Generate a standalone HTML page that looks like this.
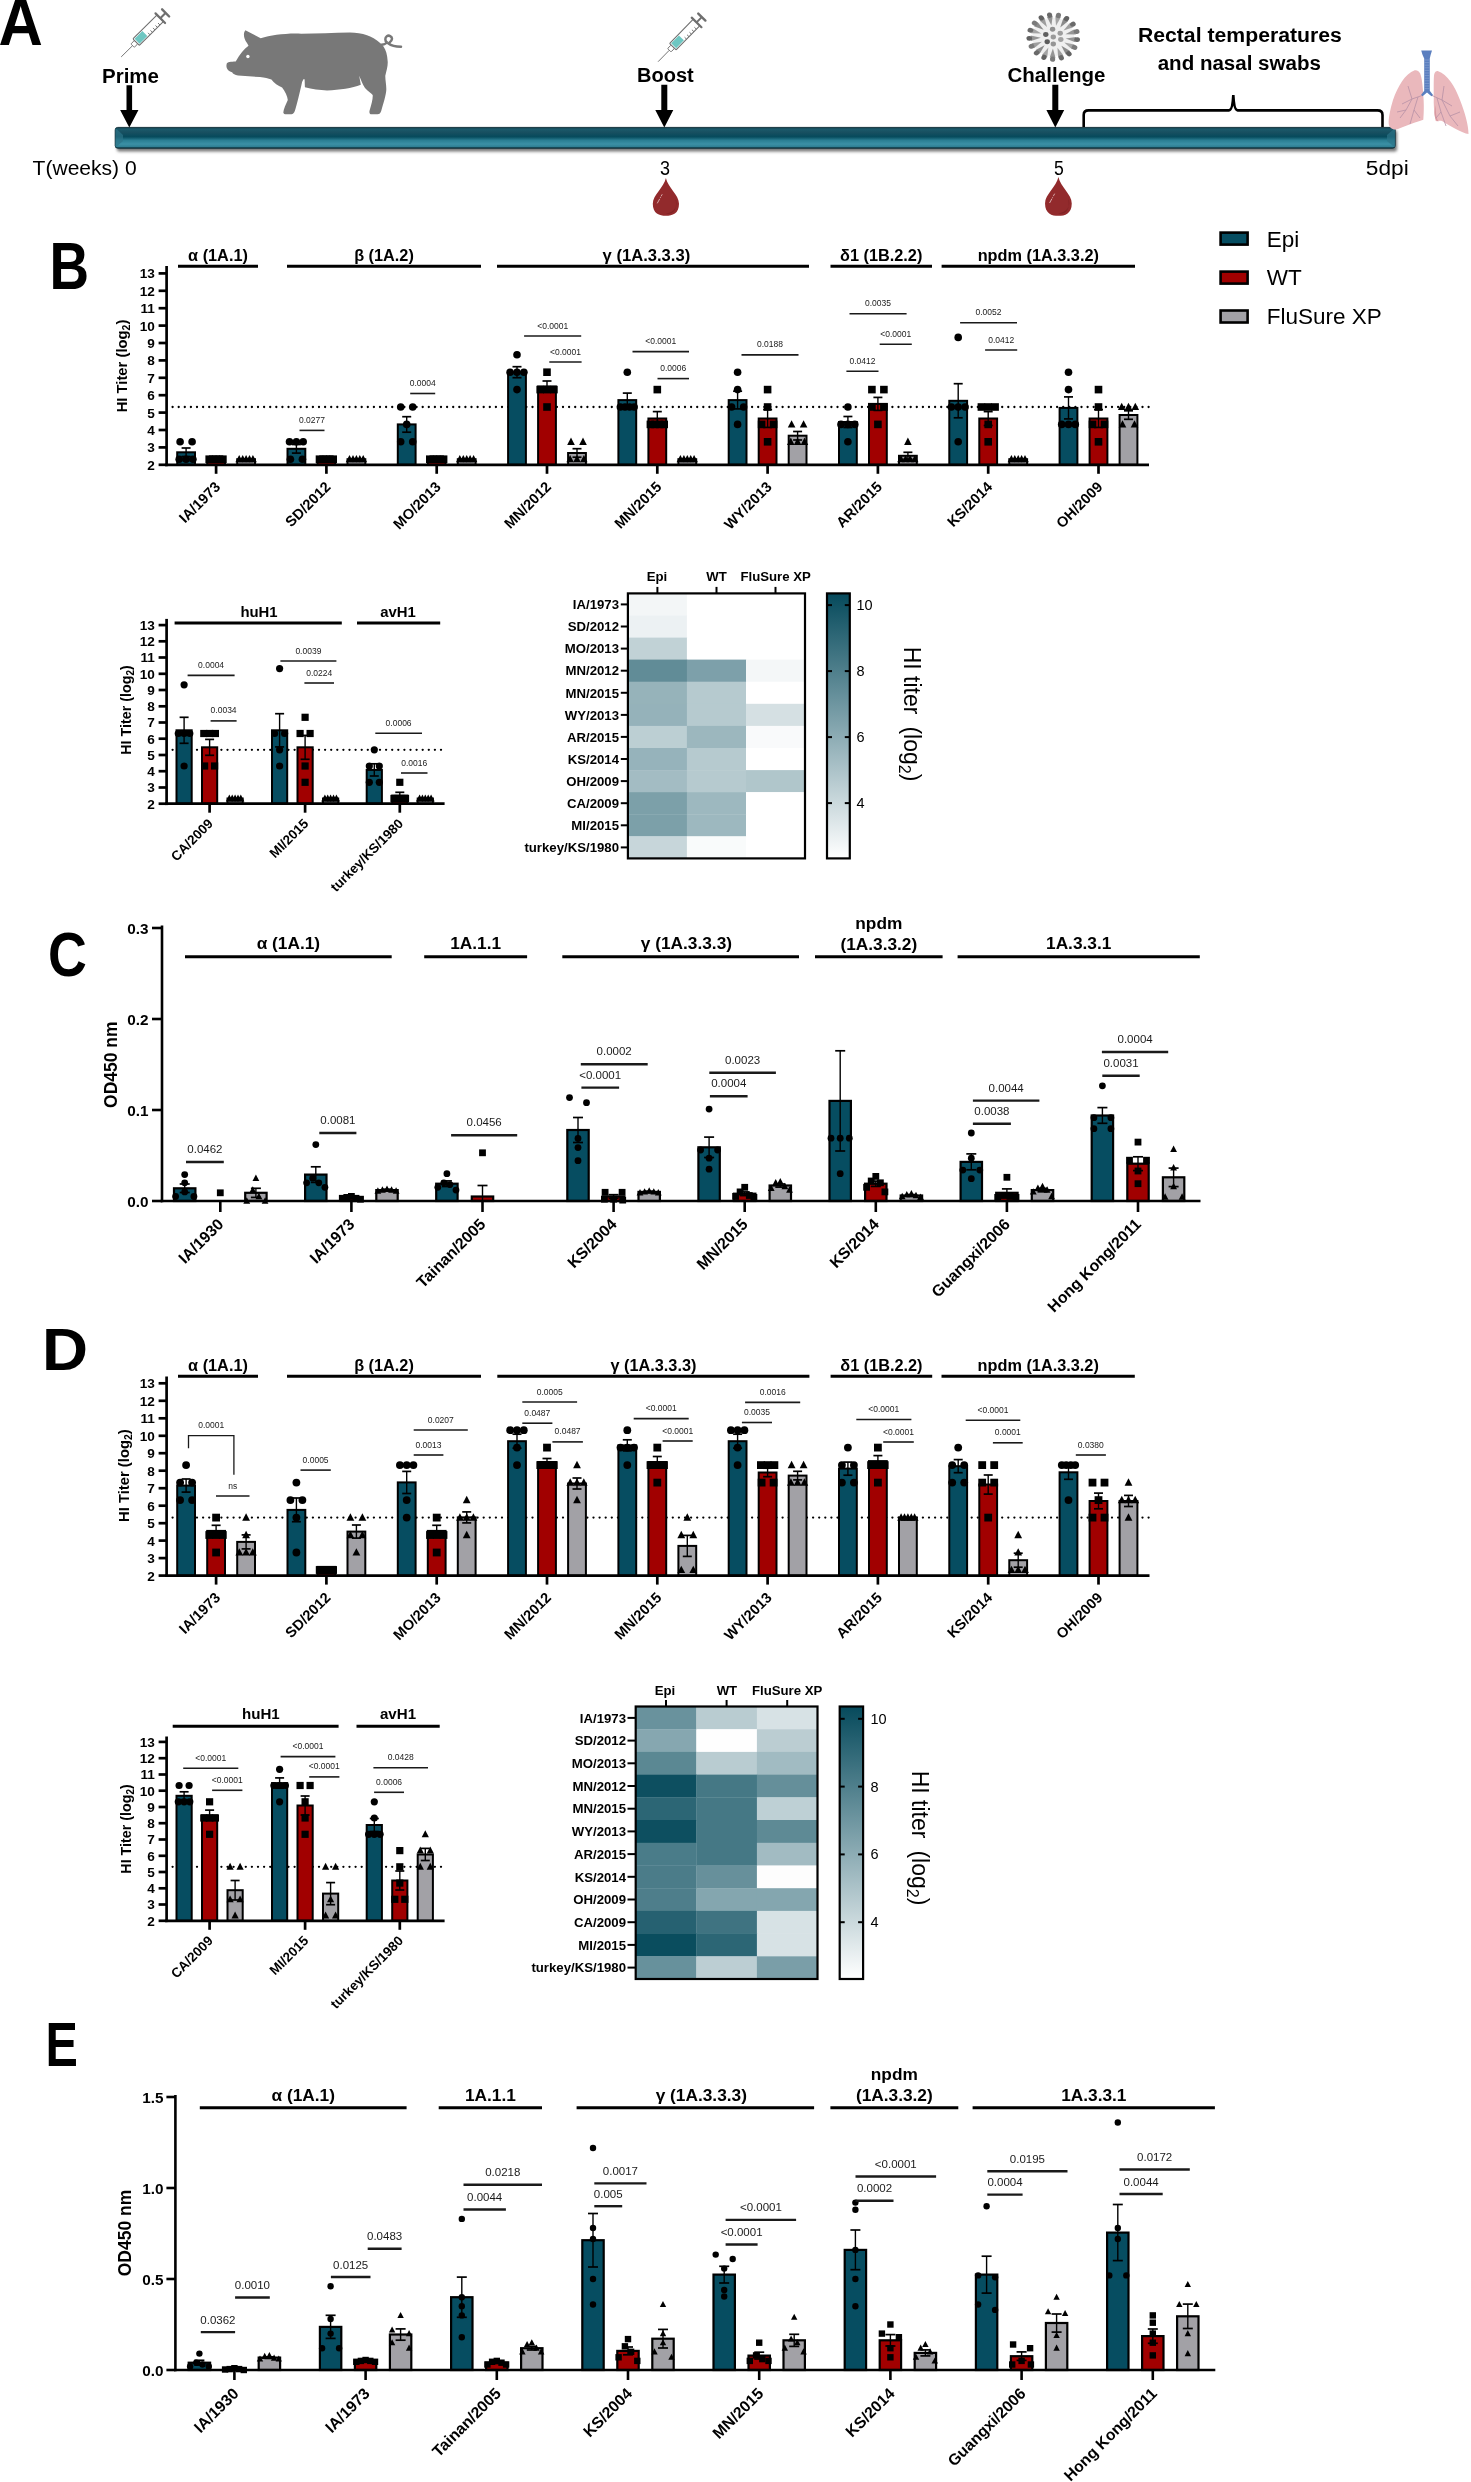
<!DOCTYPE html>
<html><head><meta charset="utf-8"><title>Figure</title>
<style>html,body{margin:0;padding:0;background:#fff;} svg{display:block;will-change:transform;} text{font-family:"Liberation Sans", sans-serif;}</style>
</head><body>
<svg width="1471" height="2482" viewBox="0 0 1471 2482" font-family="Liberation Sans, sans-serif">
<rect width="1471" height="2482" fill="#fff"/>
<text x="-1.5" y="45" font-size="66" font-weight="bold" transform="translate(-1.5 0) scale(0.93 1) translate(1.5 0)">A</text>
<g transform="translate(121.2 56.9) rotate(-44.7)" stroke="#6f6f6f" fill="none"><line x1="0" y1="0" x2="16" y2="0" stroke-width="0.9"/><rect x="16" y="-2.4" width="5" height="4.8" rx="0.8" fill="#fff" stroke-width="0.9"/><rect x="21" y="-4.6" width="34" height="9.2" rx="1" fill="#fff" stroke-width="1.1"/><rect x="22.3" y="-3.5" width="11" height="7" fill="#6ec7c2" stroke="none"/><line x1="36" y1="4.6" x2="36" y2="1.8" stroke-width="0.9"/><line x1="39.5" y1="4.6" x2="39.5" y2="1.8" stroke-width="0.9"/><line x1="43" y1="4.6" x2="43" y2="1.8" stroke-width="0.9"/><line x1="46.5" y1="4.6" x2="46.5" y2="1.8" stroke-width="0.9"/><line x1="50" y1="4.6" x2="50" y2="1.8" stroke-width="0.9"/><line x1="55" y1="-6.8" x2="55" y2="6.8" stroke-width="2.2" stroke-linecap="round"/><line x1="55" y1="0" x2="62" y2="0" stroke-width="2"/><line x1="62.5" y1="-5" x2="62.5" y2="5" stroke-width="2.4" stroke-linecap="round"/></g>
<g transform="translate(658.1 61.7) rotate(-45.6)" stroke="#6f6f6f" fill="none"><line x1="0" y1="0" x2="16" y2="0" stroke-width="0.9"/><rect x="16" y="-2.4" width="5" height="4.8" rx="0.8" fill="#fff" stroke-width="0.9"/><rect x="21" y="-4.6" width="34" height="9.2" rx="1" fill="#fff" stroke-width="1.1"/><rect x="22.3" y="-3.5" width="11" height="7" fill="#6ec7c2" stroke="none"/><line x1="36" y1="4.6" x2="36" y2="1.8" stroke-width="0.9"/><line x1="39.5" y1="4.6" x2="39.5" y2="1.8" stroke-width="0.9"/><line x1="43" y1="4.6" x2="43" y2="1.8" stroke-width="0.9"/><line x1="46.5" y1="4.6" x2="46.5" y2="1.8" stroke-width="0.9"/><line x1="50" y1="4.6" x2="50" y2="1.8" stroke-width="0.9"/><line x1="55" y1="-6.8" x2="55" y2="6.8" stroke-width="2.2" stroke-linecap="round"/><line x1="55" y1="0" x2="62" y2="0" stroke-width="2"/><line x1="62.5" y1="-5" x2="62.5" y2="5" stroke-width="2.4" stroke-linecap="round"/></g>
<path fill="#787878" d="M245.4 30.3 C243 33 243.5 38 247 43 L248.5 45.7 C244 49 240 54 235.7 61.4 C231 61.5 227 62 226.8 63.5 C226 66 226.5 68.5 228 70 C229.5 71.5 231 72 232.1 72.3 C233 74 235 75 238 75.4 L260 77.1 C265 77.8 268 78.5 271.4 79.5 C274 83 278 86 282.1 87.4 C285 91 287.5 96 287.8 100 C286 104 283.5 109 283.3 112.5 C283.5 114 285 114.4 287 114.3 L291.5 114.3 C293 114.3 294 113 295 110.5 C297 104 299.5 94 302.1 82 L303.4 79.3 L304.6 79.3 L304.9 87.3 C312 89 320 90.4 327 90.4 C340 90.2 352 88 360.8 84.8 L359.2 75.7 C361 80 363 85 365 88 C368 91.5 371 93 372.7 95 C373 99 371.5 104 369.6 110.5 C369 113 369.8 114.3 371.5 114.3 L377.5 114.3 C379.5 114.3 380.6 113 381.2 111 C383.5 103 386 95 386.3 90 C386.5 85 385.2 80 385.3 75.7 C386.5 71 388 66 387.7 61.4 C387.3 55 386 50 383.5 46.5 L381.3 44 C376 39.5 371 36.5 367 35.3 C362 33.6 356 32.6 349.9 32.6 C332 33 312 33.8 295.7 33.6 C282 33.7 270 35.5 260.7 38.3 Z"/>
<circle cx="247.9" cy="56.5" r="1.7" fill="#fff"/>
<path d="M381.5 44.8 C384 44.5 386.5 43.5 386.6 42 C385 41 384.8 37.5 386.8 36.2 C389 34.8 392 36.3 392 38.8 C392 41.3 389.8 42.5 388.5 43.5 C391 45.5 395 46.6 401 46.8" fill="none" stroke="#787878" stroke-width="2.5" stroke-linecap="round"/>
<g transform="translate(1053.3 37.0) scale(1 0.92)"><circle r="21" fill="#efefef"/><path d="M12.4 1.5 L22.0 5.6 L22.7 -0.1Z" fill="#959595"/><path d="M11.0 5.9 L18.5 13.2 L21.2 8.1Z" fill="#a4a4a4"/><path d="M8.1 9.5 L12.5 19.0 L16.9 15.2Z" fill="#8a8a8a"/><path d="M4.2 11.8 L4.8 22.2 L10.2 20.2Z" fill="#9e9e9e"/><path d="M-0.4 12.5 L-3.6 22.4 L2.2 22.6Z" fill="#959595"/><path d="M-4.9 11.5 L-11.4 19.6 L-6.1 21.9Z" fill="#a4a4a4"/><path d="M-8.7 9.0 L-17.7 14.2 L-13.6 18.2Z" fill="#8a8a8a"/><path d="M-11.4 5.2 L-21.6 6.8 L-19.2 12.1Z" fill="#9e9e9e"/><path d="M-12.5 0.8 L-22.6 -1.5 L-22.3 4.3Z" fill="#959595"/><path d="M-11.9 -3.8 L-20.6 -9.6 L-22.3 -4.0Z" fill="#a4a4a4"/><path d="M-9.7 -7.8 L-15.7 -16.3 L-19.4 -11.8Z" fill="#8a8a8a"/><path d="M-6.3 -10.8 L-8.8 -20.9 L-13.8 -18.0Z" fill="#9e9e9e"/><path d="M-1.9 -12.4 L-0.6 -22.7 L-6.3 -21.8Z" fill="#959595"/><path d="M2.7 -12.2 L7.6 -21.4 L2.0 -22.6Z" fill="#a4a4a4"/><path d="M6.9 -10.4 L14.8 -17.2 L10.0 -20.4Z" fill="#8a8a8a"/><path d="M10.2 -7.2 L20.0 -10.7 L16.7 -15.4Z" fill="#9e9e9e"/><path d="M12.1 -3.1 L22.5 -2.7 L21.1 -8.3Z" fill="#959595"/><ellipse cx="23.8" cy="2.9" rx="2.9" ry="2.6" fill="#6a6a6a" transform="rotate(7 23.8 2.9)"/><ellipse cx="21.2" cy="11.3" rx="2.9" ry="2.6" fill="#7a7a7a" transform="rotate(28 21.2 11.3)"/><ellipse cx="15.6" cy="18.2" rx="2.9" ry="2.6" fill="#626262" transform="rotate(49 15.6 18.2)"/><ellipse cx="8.0" cy="22.6" rx="2.9" ry="2.6" fill="#6a6a6a" transform="rotate(71 8.0 22.6)"/><ellipse cx="-0.7" cy="24.0" rx="2.9" ry="2.6" fill="#7a7a7a" transform="rotate(92 -0.7 24.0)"/><ellipse cx="-9.3" cy="22.1" rx="2.9" ry="2.6" fill="#626262" transform="rotate(113 -9.3 22.1)"/><ellipse cx="-16.7" cy="17.2" rx="2.9" ry="2.6" fill="#6a6a6a" transform="rotate(134 -16.7 17.2)"/><ellipse cx="-21.8" cy="10.1" rx="2.9" ry="2.6" fill="#7a7a7a" transform="rotate(155 -21.8 10.1)"/><ellipse cx="-24.0" cy="1.5" rx="2.9" ry="2.6" fill="#626262" transform="rotate(176 -24.0 1.5)"/><ellipse cx="-22.9" cy="-7.3" rx="2.9" ry="2.6" fill="#6a6a6a" transform="rotate(198 -22.9 -7.3)"/><ellipse cx="-18.7" cy="-15.0" rx="2.9" ry="2.6" fill="#7a7a7a" transform="rotate(219 -18.7 -15.0)"/><ellipse cx="-12.0" cy="-20.8" rx="2.9" ry="2.6" fill="#626262" transform="rotate(240 -12.0 -20.8)"/><ellipse cx="-3.7" cy="-23.7" rx="2.9" ry="2.6" fill="#6a6a6a" transform="rotate(261 -3.7 -23.7)"/><ellipse cx="5.1" cy="-23.4" rx="2.9" ry="2.6" fill="#7a7a7a" transform="rotate(282 5.1 -23.4)"/><ellipse cx="13.2" cy="-20.0" rx="2.9" ry="2.6" fill="#626262" transform="rotate(303 13.2 -20.0)"/><ellipse cx="19.6" cy="-13.9" rx="2.9" ry="2.6" fill="#6a6a6a" transform="rotate(325 19.6 -13.9)"/><ellipse cx="23.3" cy="-5.9" rx="2.9" ry="2.6" fill="#7a7a7a" transform="rotate(346 23.3 -5.9)"/><circle cx="0.0" cy="7.5" r="2.7" fill="#959595"/><circle cx="-7.5" cy="-2.7" r="2.7" fill="#5f5f5f"/><circle cx="6.9" cy="-4.0" r="2.7" fill="#9c9c9c"/><circle cx="7.5" cy="2.7" r="2.7" fill="#a0a0a0"/><circle cx="-6.1" cy="5.1" r="2.7" fill="#5c5c5c"/><circle cx="-0.7" cy="-8.5" r="2.7" fill="#8f8f8f"/><circle cx="0.0" cy="0.0" r="2.7" fill="#999999"/></g>
<defs><linearGradient id="tl" x1="0" y1="0" x2="0" y2="1"><stop offset="0" stop-color="#0b2f3a"/><stop offset="0.07" stop-color="#1c5a6b"/><stop offset="0.25" stop-color="#174f60"/><stop offset="0.45" stop-color="#064a5c"/><stop offset="0.62" stop-color="#2a7e92"/><stop offset="0.8" stop-color="#3b90a5"/><stop offset="0.93" stop-color="#2f7f93"/><stop offset="1" stop-color="#0b2f3a"/></linearGradient>
<filter id="sh" x="-5%" y="-50%" width="110%" height="200%"><feGaussianBlur stdDeviation="1.6"/></filter></defs>
<rect x="117" y="130.5" width="1280" height="21" rx="2" fill="#777" filter="url(#sh)"/>
<rect x="115.2" y="127.4" width="1280" height="20.8" rx="2.5" fill="url(#tl)" stroke="#0b2b35" stroke-width="0.9"/>
<path d="M115.5 128 L123 135 L123 141 L115.5 147.5 Z" fill="#2c7487" opacity="0.7"/>
<path d="M1395 128 L1387 135 L1387 141 L1395 147.5 Z" fill="#2c7487" opacity="0.7"/>
<path d="M126.50000000000001 85.3 L132.10000000000002 85.3 L132.10000000000002 110 L138.45000000000002 110 L129.3 127.5 L120.15 110 L126.50000000000001 110 Z"/>
<path d="M661.3 84.7 L667.3 84.7 L667.3 110 L673.3 110 L664.3 127.5 L655.3 110 L661.3 110 Z"/>
<path d="M1052.3 84.7 L1058.3 84.7 L1058.3 110 L1064.2 110 L1055.3 127.5 L1046.3999999999999 110 L1052.3 110 Z"/>
<path d="M1083.7 127 L1083.7 115 Q1083.7 110.4 1088.5 110.4 L1229 110.4 Q1232.5 110.4 1233.3 95 Q1234.1 110.4 1237.6 110.4 L1377.5 110.4 Q1382.5 110.4 1382.5 115 L1382.5 127" fill="none" stroke="#000" stroke-width="2.6"/>
<text x="102" y="82.6" font-size="20" font-weight="bold" textLength="57" lengthAdjust="spacingAndGlyphs">Prime</text>
<text x="637.1" y="81.8" font-size="20" font-weight="bold" textLength="56.7" lengthAdjust="spacingAndGlyphs">Boost</text>
<text x="1007.6" y="81.7" font-size="20" font-weight="bold" textLength="97.8" lengthAdjust="spacingAndGlyphs">Challenge</text>
<text x="1137.9" y="42.2" font-size="20" font-weight="bold" textLength="204" lengthAdjust="spacingAndGlyphs">Rectal temperatures</text>
<text x="1157.7" y="70.1" font-size="20" font-weight="bold" textLength="163.2" lengthAdjust="spacingAndGlyphs">and nasal swabs</text>
<text x="32.6" y="175.4" font-size="20" textLength="104" lengthAdjust="spacingAndGlyphs">T(weeks) 0</text>
<text x="660" y="175.1" font-size="20" textLength="10" lengthAdjust="spacingAndGlyphs">3</text>
<text x="1054" y="175.1" font-size="20" textLength="9.8" lengthAdjust="spacingAndGlyphs">5</text>
<text x="1365.8" y="174.6" font-size="20" textLength="42.9" lengthAdjust="spacingAndGlyphs">5dpi</text>
<path d="M665.9 178 C667.9 187.45 679.0 195.01 679.0 203.704 C679.0 213.532 672.4499999999999 215.8 665.9 215.8 C659.35 215.8 652.8 213.532 652.8 203.704 C652.8 195.01 663.9 187.45 665.9 178 Z" fill="#922a2c"/>
<path d="M675.332 198.79000000000002 C679.0 206.35000000000002 673.76 212.776 665.9 213.532 C672.4499999999999 215.044 678.2139999999999 210.13 675.332 198.79000000000002Z" fill="#7e2224"/>
<line x1="657.254" y1="203.32600000000002" x2="662.232" y2="194.25400000000002" stroke="#e6c9c9" stroke-width="0.8" stroke-dasharray="5 1 1 1"/>
<path d="M1058.4 177 C1060.4 186.7 1071.75 194.46 1071.75 203.38400000000001 C1071.75 213.472 1065.075 215.8 1058.4 215.8 C1051.7250000000001 215.8 1045.0500000000002 213.472 1045.0500000000002 203.38400000000001 C1045.0500000000002 194.46 1056.4 186.7 1058.4 177 Z" fill="#922a2c"/>
<path d="M1068.0120000000002 198.34 C1071.75 206.10000000000002 1066.41 212.696 1058.4 213.472 C1065.075 215.024 1070.949 209.98000000000002 1068.0120000000002 198.34Z" fill="#7e2224"/>
<line x1="1049.5890000000002" y1="202.996" x2="1054.662" y2="193.684" stroke="#e6c9c9" stroke-width="0.8" stroke-dasharray="5 1 1 1"/>
<g><path d="M1414.7 70.3 C1405 74 1398 86 1393 100 C1390 110 1388.5 118 1388.7 123.5 C1389 128 1393 130.5 1398 129.1 C1406 126 1416 122 1423.3 119.8 C1424 112 1424 102 1423.3 95.7 C1422.8 86 1422 78 1420.2 73.4 C1418.5 70.5 1416.5 69.8 1414.7 70.3 Z" fill="#eab8bc"/><path d="M1438.2 71.2 C1447 74 1455 86 1460 100 C1465 113 1468.5 125 1468.5 134.1 C1462 133 1450 126 1442 121 C1439 120.5 1436.5 121.5 1435.7 121 C1434 113 1433.5 104 1433.8 96.9 C1433.8 88 1433.5 80 1434.1 74.7 C1434.8 71.8 1436.5 70.8 1438.2 71.2 Z" fill="#eab8bc"/><path d="M1435.5 105 C1436 112 1436 118 1438.5 121.5 C1436 121.5 1434.5 118 1434.5 112Z" fill="#d99aa2"/><path d="M1421.2 50.5 L1432 50.5 L1430.6 55 L1429.8 58.6 L1429.8 90.7 L1433.2 95.2 L1431.5 96.2 L1427 92.5 L1422.5 96.2 L1421 95 L1424.2 90.7 L1424.2 58.6 L1422.6 55 Z" fill="#5b7fbf"/><line x1="1424.2" y1="60.0" x2="1429.8" y2="60.0" stroke="#86a2d2" stroke-width="0.7"/><line x1="1424.2" y1="62.6" x2="1429.8" y2="62.6" stroke="#86a2d2" stroke-width="0.7"/><line x1="1424.2" y1="65.2" x2="1429.8" y2="65.2" stroke="#86a2d2" stroke-width="0.7"/><line x1="1424.2" y1="67.8" x2="1429.8" y2="67.8" stroke="#86a2d2" stroke-width="0.7"/><line x1="1424.2" y1="70.4" x2="1429.8" y2="70.4" stroke="#86a2d2" stroke-width="0.7"/><line x1="1424.2" y1="73.0" x2="1429.8" y2="73.0" stroke="#86a2d2" stroke-width="0.7"/><line x1="1424.2" y1="75.6" x2="1429.8" y2="75.6" stroke="#86a2d2" stroke-width="0.7"/><line x1="1424.2" y1="78.2" x2="1429.8" y2="78.2" stroke="#86a2d2" stroke-width="0.7"/><line x1="1424.2" y1="80.8" x2="1429.8" y2="80.8" stroke="#86a2d2" stroke-width="0.7"/><line x1="1424.2" y1="83.4" x2="1429.8" y2="83.4" stroke="#86a2d2" stroke-width="0.7"/><line x1="1424.2" y1="86.0" x2="1429.8" y2="86.0" stroke="#86a2d2" stroke-width="0.7"/><line x1="1424.2" y1="88.6" x2="1429.8" y2="88.6" stroke="#86a2d2" stroke-width="0.7"/><path d="M1422 95.5 L1412 99 L1402 104" stroke="#b690a6" stroke-width="0.8" fill="none"/><path d="M1412 99 L1406 110 L1400 118" stroke="#b690a6" stroke-width="0.8" fill="none"/><path d="M1418 97 L1414 110 L1410 124" stroke="#b690a6" stroke-width="0.8" fill="none"/><path d="M1406 110 L1397 112" stroke="#b690a6" stroke-width="0.8" fill="none"/><path d="M1414 110 L1420 118" stroke="#b690a6" stroke-width="0.8" fill="none"/><path d="M1408 86 L1412 99" stroke="#b690a6" stroke-width="0.8" fill="none"/><path d="M1432 95.5 L1442 100 L1452 106" stroke="#b690a6" stroke-width="0.8" fill="none"/><path d="M1442 100 L1450 116 L1458 126" stroke="#b690a6" stroke-width="0.8" fill="none"/><path d="M1437 98 L1441 112 L1446 126" stroke="#b690a6" stroke-width="0.8" fill="none"/><path d="M1450 116 L1460 112" stroke="#b690a6" stroke-width="0.8" fill="none"/><path d="M1444 86 L1442 100" stroke="#b690a6" stroke-width="0.8" fill="none"/><path d="M1441 112 L1436 118" stroke="#b690a6" stroke-width="0.8" fill="none"/></g>
<text x="49.5" y="289" font-size="66" font-weight="bold" transform="translate(49.5 0) scale(0.83 1) translate(-49.5 0)">B</text>
<line x1="172.6" y1="407" x2="1149" y2="407" stroke="#000" stroke-width="2.3" stroke-linecap="round" stroke-dasharray="0 6.1"/>
<rect x="177.2" y="452.3" width="17.8" height="12.5" fill="#064d61" stroke="#000" stroke-width="2"/>
<circle cx="180.1" cy="441.8" r="3.8"/>
<circle cx="192.1" cy="441.8" r="3.8"/>
<circle cx="186.1" cy="459.2" r="3.8"/>
<circle cx="179.2" cy="459.2" r="3.8"/>
<circle cx="192.9" cy="459.2" r="3.8"/>
<line x1="186.1" y1="448" x2="186.1" y2="456.5" stroke="#000" stroke-width="1.4"/>
<line x1="181.6" y1="448" x2="190.6" y2="448" stroke="#000" stroke-width="1.7"/>
<line x1="181.6" y1="456.5" x2="190.6" y2="456.5" stroke="#000" stroke-width="1.7"/>
<rect x="207.2" y="459.2" width="17.8" height="5.6" fill="#a10000" stroke="#000" stroke-width="2"/>
<rect x="212.3" y="455.4" width="7.6" height="7.6"/>
<rect x="208.9" y="455.4" width="7.6" height="7.6"/>
<rect x="215.7" y="455.4" width="7.6" height="7.6"/>
<rect x="205.4" y="455.4" width="7.6" height="7.6"/>
<rect x="219.1" y="455.4" width="7.6" height="7.6"/>
<rect x="237.2" y="459.2" width="17.8" height="5.6" fill="#a2a1a6" stroke="#000" stroke-width="2"/>
<path d="M246.1 455L249.9 462.3L242.3 462.3Z"/>
<path d="M242.7 455L246.5 462.3L238.9 462.3Z"/>
<path d="M249.5 455L253.3 462.3L245.7 462.3Z"/>
<path d="M239.2 455L243.1 462.3L235.4 462.3Z"/>
<path d="M252.9 455L256.8 462.3L249.1 462.3Z"/>
<rect x="287.5" y="448.8" width="17.8" height="16" fill="#064d61" stroke="#000" stroke-width="2"/>
<circle cx="296.4" cy="441.8" r="3.8"/>
<circle cx="289.5" cy="441.8" r="3.8"/>
<circle cx="303.2" cy="441.8" r="3.8"/>
<circle cx="290.4" cy="459.2" r="3.8"/>
<circle cx="302.4" cy="459.2" r="3.8"/>
<line x1="296.4" y1="444.5" x2="296.4" y2="453.1" stroke="#000" stroke-width="1.4"/>
<line x1="291.9" y1="444.5" x2="300.9" y2="444.5" stroke="#000" stroke-width="1.7"/>
<line x1="291.9" y1="453.1" x2="300.9" y2="453.1" stroke="#000" stroke-width="1.7"/>
<rect x="317.5" y="459.2" width="17.8" height="5.6" fill="#a10000" stroke="#000" stroke-width="2"/>
<rect x="322.6" y="455.4" width="7.6" height="7.6"/>
<rect x="319.2" y="455.4" width="7.6" height="7.6"/>
<rect x="326" y="455.4" width="7.6" height="7.6"/>
<rect x="315.7" y="455.4" width="7.6" height="7.6"/>
<rect x="329.4" y="455.4" width="7.6" height="7.6"/>
<rect x="347.5" y="459.2" width="17.8" height="5.6" fill="#a2a1a6" stroke="#000" stroke-width="2"/>
<path d="M356.4 455L360.2 462.3L352.6 462.3Z"/>
<path d="M353 455L356.8 462.3L349.2 462.3Z"/>
<path d="M359.8 455L363.6 462.3L356 462.3Z"/>
<path d="M349.5 455L353.3 462.3L345.7 462.3Z"/>
<path d="M363.2 455L367.1 462.3L359.4 462.3Z"/>
<rect x="397.8" y="424.4" width="17.8" height="40.4" fill="#064d61" stroke="#000" stroke-width="2"/>
<circle cx="400.7" cy="407" r="3.8"/>
<circle cx="412.7" cy="407" r="3.8"/>
<circle cx="406.7" cy="424.4" r="3.8"/>
<circle cx="400.7" cy="441.8" r="3.8"/>
<circle cx="412.7" cy="441.8" r="3.8"/>
<line x1="406.7" y1="416.7" x2="406.7" y2="432.2" stroke="#000" stroke-width="1.4"/>
<line x1="402.2" y1="416.7" x2="411.2" y2="416.7" stroke="#000" stroke-width="1.7"/>
<line x1="402.2" y1="432.2" x2="411.2" y2="432.2" stroke="#000" stroke-width="1.7"/>
<rect x="427.8" y="459.2" width="17.8" height="5.6" fill="#a10000" stroke="#000" stroke-width="2"/>
<rect x="432.9" y="455.4" width="7.6" height="7.6"/>
<rect x="429.5" y="455.4" width="7.6" height="7.6"/>
<rect x="436.3" y="455.4" width="7.6" height="7.6"/>
<rect x="426" y="455.4" width="7.6" height="7.6"/>
<rect x="439.8" y="455.4" width="7.6" height="7.6"/>
<rect x="457.8" y="459.2" width="17.8" height="5.6" fill="#a2a1a6" stroke="#000" stroke-width="2"/>
<path d="M466.7 455L470.5 462.3L462.9 462.3Z"/>
<path d="M463.3 455L467.1 462.3L459.5 462.3Z"/>
<path d="M470.1 455L473.9 462.3L466.3 462.3Z"/>
<path d="M459.8 455L463.6 462.3L456 462.3Z"/>
<path d="M473.6 455L477.4 462.3L469.8 462.3Z"/>
<rect x="508.1" y="372.2" width="17.8" height="92.6" fill="#064d61" stroke="#000" stroke-width="2"/>
<circle cx="517" cy="354.8" r="3.8"/>
<circle cx="517" cy="372.2" r="3.8"/>
<circle cx="510.1" cy="372.2" r="3.8"/>
<circle cx="523.9" cy="372.2" r="3.8"/>
<circle cx="517" cy="389.6" r="3.8"/>
<line x1="517" y1="366.7" x2="517" y2="377.7" stroke="#000" stroke-width="1.4"/>
<line x1="512.5" y1="366.7" x2="521.5" y2="366.7" stroke="#000" stroke-width="1.7"/>
<line x1="512.5" y1="377.7" x2="521.5" y2="377.7" stroke="#000" stroke-width="1.7"/>
<rect x="538.1" y="386.5" width="17.8" height="78.3" fill="#a10000" stroke="#000" stroke-width="2"/>
<rect x="543.2" y="368.4" width="7.6" height="7.6"/>
<rect x="543.2" y="385.8" width="7.6" height="7.6"/>
<rect x="536.4" y="385.8" width="7.6" height="7.6"/>
<rect x="550.1" y="385.8" width="7.6" height="7.6"/>
<rect x="543.2" y="403.2" width="7.6" height="7.6"/>
<line x1="547" y1="381" x2="547" y2="392" stroke="#000" stroke-width="1.4"/>
<line x1="542.5" y1="381" x2="551.5" y2="381" stroke="#000" stroke-width="1.7"/>
<line x1="542.5" y1="392" x2="551.5" y2="392" stroke="#000" stroke-width="1.7"/>
<rect x="568.1" y="453" width="17.8" height="11.8" fill="#a2a1a6" stroke="#000" stroke-width="2"/>
<path d="M571 437.6L574.8 444.9L567.2 444.9Z"/>
<path d="M583 437.6L586.8 444.9L579.2 444.9Z"/>
<path d="M577 455L580.8 462.3L573.2 462.3Z"/>
<path d="M570.1 455L573.9 462.3L566.4 462.3Z"/>
<path d="M583.9 455L587.6 462.3L580.1 462.3Z"/>
<line x1="577" y1="448.7" x2="577" y2="457.2" stroke="#000" stroke-width="1.4"/>
<line x1="572.5" y1="448.7" x2="581.5" y2="448.7" stroke="#000" stroke-width="1.7"/>
<line x1="572.5" y1="457.2" x2="581.5" y2="457.2" stroke="#000" stroke-width="1.7"/>
<rect x="618.4" y="400.1" width="17.8" height="64.7" fill="#064d61" stroke="#000" stroke-width="2"/>
<circle cx="627.3" cy="372.2" r="3.8"/>
<circle cx="625" cy="407" r="3.8"/>
<circle cx="629.6" cy="407" r="3.8"/>
<circle cx="620.4" cy="407" r="3.8"/>
<circle cx="634.1" cy="407" r="3.8"/>
<line x1="627.3" y1="393.1" x2="627.3" y2="407" stroke="#000" stroke-width="1.4"/>
<line x1="622.8" y1="393.1" x2="631.8" y2="393.1" stroke="#000" stroke-width="1.7"/>
<line x1="622.8" y1="407" x2="631.8" y2="407" stroke="#000" stroke-width="1.7"/>
<rect x="648.4" y="418.5" width="17.8" height="46.3" fill="#a10000" stroke="#000" stroke-width="2"/>
<rect x="653.5" y="385.8" width="7.6" height="7.6"/>
<rect x="651.2" y="420.6" width="7.6" height="7.6"/>
<rect x="655.8" y="420.6" width="7.6" height="7.6"/>
<rect x="646.6" y="420.6" width="7.6" height="7.6"/>
<rect x="660.4" y="420.6" width="7.6" height="7.6"/>
<line x1="657.3" y1="411.6" x2="657.3" y2="425.5" stroke="#000" stroke-width="1.4"/>
<line x1="652.8" y1="411.6" x2="661.8" y2="411.6" stroke="#000" stroke-width="1.7"/>
<line x1="652.8" y1="425.5" x2="661.8" y2="425.5" stroke="#000" stroke-width="1.7"/>
<rect x="678.4" y="459.2" width="17.8" height="5.6" fill="#a2a1a6" stroke="#000" stroke-width="2"/>
<path d="M687.3 455L691.1 462.3L683.5 462.3Z"/>
<path d="M683.9 455L687.7 462.3L680.1 462.3Z"/>
<path d="M690.7 455L694.5 462.3L686.9 462.3Z"/>
<path d="M680.4 455L684.2 462.3L676.6 462.3Z"/>
<path d="M694.1 455L697.9 462.3L690.4 462.3Z"/>
<rect x="728.7" y="400.1" width="17.8" height="64.7" fill="#064d61" stroke="#000" stroke-width="2"/>
<circle cx="737.6" cy="372.2" r="3.8"/>
<circle cx="737.6" cy="389.6" r="3.8"/>
<circle cx="731.6" cy="407" r="3.8"/>
<circle cx="743.6" cy="407" r="3.8"/>
<circle cx="737.6" cy="424.4" r="3.8"/>
<line x1="737.6" y1="391.2" x2="737.6" y2="408.9" stroke="#000" stroke-width="1.4"/>
<line x1="733.1" y1="391.2" x2="742.1" y2="391.2" stroke="#000" stroke-width="1.7"/>
<line x1="733.1" y1="408.9" x2="742.1" y2="408.9" stroke="#000" stroke-width="1.7"/>
<rect x="758.7" y="418.5" width="17.8" height="46.3" fill="#a10000" stroke="#000" stroke-width="2"/>
<rect x="763.8" y="385.8" width="7.6" height="7.6"/>
<rect x="763.8" y="403.2" width="7.6" height="7.6"/>
<rect x="757.8" y="420.6" width="7.6" height="7.6"/>
<rect x="769.8" y="420.6" width="7.6" height="7.6"/>
<rect x="763.8" y="438" width="7.6" height="7.6"/>
<line x1="767.6" y1="409.6" x2="767.6" y2="427.4" stroke="#000" stroke-width="1.4"/>
<line x1="763.1" y1="409.6" x2="772.1" y2="409.6" stroke="#000" stroke-width="1.7"/>
<line x1="763.1" y1="427.4" x2="772.1" y2="427.4" stroke="#000" stroke-width="1.7"/>
<rect x="788.7" y="435.7" width="17.8" height="29.1" fill="#a2a1a6" stroke="#000" stroke-width="2"/>
<path d="M791.6 420.2L795.4 427.5L787.8 427.5Z"/>
<path d="M803.6 420.2L807.4 427.5L799.8 427.5Z"/>
<path d="M797.6 437.6L801.4 444.9L793.8 444.9Z"/>
<path d="M790.8 437.6L794.5 444.9L787 444.9Z"/>
<path d="M804.5 437.6L808.2 444.9L800.7 444.9Z"/>
<line x1="797.6" y1="431.5" x2="797.6" y2="440" stroke="#000" stroke-width="1.4"/>
<line x1="793.1" y1="431.5" x2="802.1" y2="431.5" stroke="#000" stroke-width="1.7"/>
<line x1="793.1" y1="440" x2="802.1" y2="440" stroke="#000" stroke-width="1.7"/>
<rect x="839" y="422" width="17.8" height="42.8" fill="#064d61" stroke="#000" stroke-width="2"/>
<circle cx="847.9" cy="407" r="3.8"/>
<circle cx="847.9" cy="424.4" r="3.8"/>
<circle cx="841" cy="424.4" r="3.8"/>
<circle cx="854.8" cy="424.4" r="3.8"/>
<circle cx="847.9" cy="441.8" r="3.8"/>
<line x1="847.9" y1="416.5" x2="847.9" y2="427.5" stroke="#000" stroke-width="1.4"/>
<line x1="843.4" y1="416.5" x2="852.4" y2="416.5" stroke="#000" stroke-width="1.7"/>
<line x1="843.4" y1="427.5" x2="852.4" y2="427.5" stroke="#000" stroke-width="1.7"/>
<rect x="869" y="403.9" width="17.8" height="60.9" fill="#a10000" stroke="#000" stroke-width="2"/>
<rect x="868.1" y="385.8" width="7.6" height="7.6"/>
<rect x="880.1" y="385.8" width="7.6" height="7.6"/>
<rect x="868.1" y="403.2" width="7.6" height="7.6"/>
<rect x="880.1" y="403.2" width="7.6" height="7.6"/>
<rect x="874.1" y="420.6" width="7.6" height="7.6"/>
<line x1="877.9" y1="397.4" x2="877.9" y2="410.4" stroke="#000" stroke-width="1.4"/>
<line x1="873.4" y1="397.4" x2="882.4" y2="397.4" stroke="#000" stroke-width="1.7"/>
<line x1="873.4" y1="410.4" x2="882.4" y2="410.4" stroke="#000" stroke-width="1.7"/>
<rect x="899" y="455.8" width="17.8" height="9" fill="#a2a1a6" stroke="#000" stroke-width="2"/>
<path d="M907.9 437.6L911.7 444.9L904.1 444.9Z"/>
<path d="M905.6 455L909.4 462.3L901.8 462.3Z"/>
<path d="M910.2 455L914 462.3L906.4 462.3Z"/>
<path d="M901 455L904.8 462.3L897.2 462.3Z"/>
<path d="M914.8 455L918.5 462.3L911 462.3Z"/>
<line x1="907.9" y1="452.3" x2="907.9" y2="459.2" stroke="#000" stroke-width="1.4"/>
<line x1="903.4" y1="452.3" x2="912.4" y2="452.3" stroke="#000" stroke-width="1.7"/>
<line x1="903.4" y1="459.2" x2="912.4" y2="459.2" stroke="#000" stroke-width="1.7"/>
<rect x="949.3" y="400.8" width="17.8" height="64" fill="#064d61" stroke="#000" stroke-width="2"/>
<circle cx="958.2" cy="337.4" r="3.8"/>
<circle cx="958.2" cy="407" r="3.8"/>
<circle cx="951.4" cy="407" r="3.8"/>
<circle cx="965.1" cy="407" r="3.8"/>
<circle cx="958.2" cy="441.8" r="3.8"/>
<line x1="958.2" y1="383.7" x2="958.2" y2="417.8" stroke="#000" stroke-width="1.4"/>
<line x1="953.7" y1="383.7" x2="962.7" y2="383.7" stroke="#000" stroke-width="1.7"/>
<line x1="953.7" y1="417.8" x2="962.7" y2="417.8" stroke="#000" stroke-width="1.7"/>
<rect x="979.3" y="418.5" width="17.8" height="46.3" fill="#a10000" stroke="#000" stroke-width="2"/>
<rect x="984.4" y="403.2" width="7.6" height="7.6"/>
<rect x="977.6" y="403.2" width="7.6" height="7.6"/>
<rect x="991.3" y="403.2" width="7.6" height="7.6"/>
<rect x="984.4" y="420.6" width="7.6" height="7.6"/>
<rect x="984.4" y="438" width="7.6" height="7.6"/>
<line x1="988.2" y1="411.6" x2="988.2" y2="425.5" stroke="#000" stroke-width="1.4"/>
<line x1="983.7" y1="411.6" x2="992.7" y2="411.6" stroke="#000" stroke-width="1.7"/>
<line x1="983.7" y1="425.5" x2="992.7" y2="425.5" stroke="#000" stroke-width="1.7"/>
<rect x="1009.3" y="459.2" width="17.8" height="5.6" fill="#a2a1a6" stroke="#000" stroke-width="2"/>
<path d="M1018.2 455L1022 462.3L1014.4 462.3Z"/>
<path d="M1014.8 455L1018.6 462.3L1011 462.3Z"/>
<path d="M1021.6 455L1025.4 462.3L1017.8 462.3Z"/>
<path d="M1011.4 455L1015.1 462.3L1007.6 462.3Z"/>
<path d="M1025 455L1028.8 462.3L1021.2 462.3Z"/>
<rect x="1059.6" y="407.9" width="17.8" height="56.9" fill="#064d61" stroke="#000" stroke-width="2"/>
<circle cx="1068.5" cy="372.2" r="3.8"/>
<circle cx="1068.5" cy="389.6" r="3.8"/>
<circle cx="1068.5" cy="424.4" r="3.8"/>
<circle cx="1061.7" cy="424.4" r="3.8"/>
<circle cx="1075.3" cy="424.4" r="3.8"/>
<line x1="1068.5" y1="396.9" x2="1068.5" y2="418.9" stroke="#000" stroke-width="1.4"/>
<line x1="1064" y1="396.9" x2="1073" y2="396.9" stroke="#000" stroke-width="1.7"/>
<line x1="1064" y1="418.9" x2="1073" y2="418.9" stroke="#000" stroke-width="1.7"/>
<rect x="1089.6" y="418.5" width="17.8" height="46.3" fill="#a10000" stroke="#000" stroke-width="2"/>
<rect x="1094.7" y="385.8" width="7.6" height="7.6"/>
<rect x="1094.7" y="403.2" width="7.6" height="7.6"/>
<rect x="1088.7" y="420.6" width="7.6" height="7.6"/>
<rect x="1100.7" y="420.6" width="7.6" height="7.6"/>
<rect x="1094.7" y="438" width="7.6" height="7.6"/>
<line x1="1098.5" y1="409.6" x2="1098.5" y2="427.4" stroke="#000" stroke-width="1.4"/>
<line x1="1094" y1="409.6" x2="1103" y2="409.6" stroke="#000" stroke-width="1.7"/>
<line x1="1094" y1="427.4" x2="1103" y2="427.4" stroke="#000" stroke-width="1.7"/>
<rect x="1119.6" y="415" width="17.8" height="49.8" fill="#a2a1a6" stroke="#000" stroke-width="2"/>
<path d="M1128.5 402.8L1132.3 410.1L1124.7 410.1Z"/>
<path d="M1121.7 402.8L1125.5 410.1L1117.9 410.1Z"/>
<path d="M1135.3 402.8L1139.1 410.1L1131.5 410.1Z"/>
<path d="M1122.5 420.2L1126.3 427.5L1118.7 427.5Z"/>
<path d="M1134.5 420.2L1138.3 427.5L1130.7 427.5Z"/>
<line x1="1128.5" y1="410.8" x2="1128.5" y2="419.3" stroke="#000" stroke-width="1.4"/>
<line x1="1124" y1="410.8" x2="1133" y2="410.8" stroke="#000" stroke-width="1.7"/>
<line x1="1124" y1="419.3" x2="1133" y2="419.3" stroke="#000" stroke-width="1.7"/>
<line x1="166.6" y1="266" x2="166.6" y2="466.2" stroke="#000" stroke-width="2.7"/>
<line x1="165.2" y1="464.8" x2="1149" y2="464.8" stroke="#000" stroke-width="2.7"/>
<line x1="158.6" y1="464.8" x2="166.6" y2="464.8" stroke="#000" stroke-width="2.7"/>
<text x="154.8" y="469.7" font-size="13.6" font-weight="bold" text-anchor="end">2</text>
<line x1="158.6" y1="447.4" x2="166.6" y2="447.4" stroke="#000" stroke-width="2.7"/>
<text x="154.8" y="452.3" font-size="13.6" font-weight="bold" text-anchor="end">3</text>
<line x1="158.6" y1="430" x2="166.6" y2="430" stroke="#000" stroke-width="2.7"/>
<text x="154.8" y="434.9" font-size="13.6" font-weight="bold" text-anchor="end">4</text>
<line x1="158.6" y1="412.6" x2="166.6" y2="412.6" stroke="#000" stroke-width="2.7"/>
<text x="154.8" y="417.5" font-size="13.6" font-weight="bold" text-anchor="end">5</text>
<line x1="158.6" y1="395.2" x2="166.6" y2="395.2" stroke="#000" stroke-width="2.7"/>
<text x="154.8" y="400.1" font-size="13.6" font-weight="bold" text-anchor="end">6</text>
<line x1="158.6" y1="377.8" x2="166.6" y2="377.8" stroke="#000" stroke-width="2.7"/>
<text x="154.8" y="382.7" font-size="13.6" font-weight="bold" text-anchor="end">7</text>
<line x1="158.6" y1="360.4" x2="166.6" y2="360.4" stroke="#000" stroke-width="2.7"/>
<text x="154.8" y="365.3" font-size="13.6" font-weight="bold" text-anchor="end">8</text>
<line x1="158.6" y1="343" x2="166.6" y2="343" stroke="#000" stroke-width="2.7"/>
<text x="154.8" y="347.9" font-size="13.6" font-weight="bold" text-anchor="end">9</text>
<line x1="158.6" y1="325.6" x2="166.6" y2="325.6" stroke="#000" stroke-width="2.7"/>
<text x="154.8" y="330.5" font-size="13.6" font-weight="bold" text-anchor="end">10</text>
<line x1="158.6" y1="308.2" x2="166.6" y2="308.2" stroke="#000" stroke-width="2.7"/>
<text x="154.8" y="313.1" font-size="13.6" font-weight="bold" text-anchor="end">11</text>
<line x1="158.6" y1="290.8" x2="166.6" y2="290.8" stroke="#000" stroke-width="2.7"/>
<text x="154.8" y="295.7" font-size="13.6" font-weight="bold" text-anchor="end">12</text>
<line x1="158.6" y1="273.4" x2="166.6" y2="273.4" stroke="#000" stroke-width="2.7"/>
<text x="154.8" y="278.3" font-size="13.6" font-weight="bold" text-anchor="end">13</text>
<line x1="216.1" y1="464.8" x2="216.1" y2="473.8" stroke="#000" stroke-width="2.7"/>
<line x1="326.4" y1="464.8" x2="326.4" y2="473.8" stroke="#000" stroke-width="2.7"/>
<line x1="436.7" y1="464.8" x2="436.7" y2="473.8" stroke="#000" stroke-width="2.7"/>
<line x1="547" y1="464.8" x2="547" y2="473.8" stroke="#000" stroke-width="2.7"/>
<line x1="657.3" y1="464.8" x2="657.3" y2="473.8" stroke="#000" stroke-width="2.7"/>
<line x1="767.6" y1="464.8" x2="767.6" y2="473.8" stroke="#000" stroke-width="2.7"/>
<line x1="877.9" y1="464.8" x2="877.9" y2="473.8" stroke="#000" stroke-width="2.7"/>
<line x1="988.2" y1="464.8" x2="988.2" y2="473.8" stroke="#000" stroke-width="2.7"/>
<line x1="1098.5" y1="464.8" x2="1098.5" y2="473.8" stroke="#000" stroke-width="2.7"/>
<text x="221.2" y="487.7" font-size="14.6" font-weight="bold" text-anchor="end" transform="rotate(-45 221.2 487.7)">IA/1973</text>
<text x="331.5" y="487.7" font-size="14.6" font-weight="bold" text-anchor="end" transform="rotate(-45 331.5 487.7)">SD/2012</text>
<text x="441.8" y="487.7" font-size="14.6" font-weight="bold" text-anchor="end" transform="rotate(-45 441.8 487.7)">MO/2013</text>
<text x="552.1" y="487.7" font-size="14.6" font-weight="bold" text-anchor="end" transform="rotate(-45 552.1 487.7)">MN/2012</text>
<text x="662.4" y="487.7" font-size="14.6" font-weight="bold" text-anchor="end" transform="rotate(-45 662.4 487.7)">MN/2015</text>
<text x="772.7" y="487.7" font-size="14.6" font-weight="bold" text-anchor="end" transform="rotate(-45 772.7 487.7)">WY/2013</text>
<text x="883" y="487.7" font-size="14.6" font-weight="bold" text-anchor="end" transform="rotate(-45 883 487.7)">AR/2015</text>
<text x="993.3" y="487.7" font-size="14.6" font-weight="bold" text-anchor="end" transform="rotate(-45 993.3 487.7)">KS/2014</text>
<text x="1103.6" y="487.7" font-size="14.6" font-weight="bold" text-anchor="end" transform="rotate(-45 1103.6 487.7)">OH/2009</text>
<line x1="299.5" y1="430.4" x2="324.5" y2="430.4" stroke="#1a1a1a" stroke-width="1.6"/>
<text x="312" y="422.9" font-size="8.5" text-anchor="middle" fill="#1a1a1a">0.0277</text>
<line x1="410.2" y1="393.5" x2="435.2" y2="393.5" stroke="#1a1a1a" stroke-width="1.6"/>
<text x="422.7" y="386" font-size="8.5" text-anchor="middle" fill="#1a1a1a">0.0004</text>
<line x1="524.1" y1="336" x2="581.2" y2="336" stroke="#1a1a1a" stroke-width="1.6"/>
<text x="552.7" y="328.5" font-size="8.5" text-anchor="middle" fill="#1a1a1a">&lt;0.0001</text>
<line x1="549.3" y1="362" x2="581.6" y2="362" stroke="#1a1a1a" stroke-width="1.6"/>
<text x="565.5" y="354.5" font-size="8.5" text-anchor="middle" fill="#1a1a1a">&lt;0.0001</text>
<line x1="632.5" y1="351.6" x2="689" y2="351.6" stroke="#1a1a1a" stroke-width="1.6"/>
<text x="660.8" y="344.1" font-size="8.5" text-anchor="middle" fill="#1a1a1a">&lt;0.0001</text>
<line x1="657.5" y1="378.6" x2="689" y2="378.6" stroke="#1a1a1a" stroke-width="1.6"/>
<text x="673.2" y="371.1" font-size="8.5" text-anchor="middle" fill="#1a1a1a">0.0006</text>
<line x1="741.5" y1="354.9" x2="798.5" y2="354.9" stroke="#1a1a1a" stroke-width="1.6"/>
<text x="770" y="347.4" font-size="8.5" text-anchor="middle" fill="#1a1a1a">0.0188</text>
<line x1="849.5" y1="313.8" x2="906.6" y2="313.8" stroke="#1a1a1a" stroke-width="1.6"/>
<text x="878" y="306.3" font-size="8.5" text-anchor="middle" fill="#1a1a1a">0.0035</text>
<line x1="879.7" y1="344.2" x2="911.8" y2="344.2" stroke="#1a1a1a" stroke-width="1.6"/>
<text x="895.8" y="336.7" font-size="8.5" text-anchor="middle" fill="#1a1a1a">&lt;0.0001</text>
<line x1="846.4" y1="371.3" x2="878.5" y2="371.3" stroke="#1a1a1a" stroke-width="1.6"/>
<text x="862.5" y="363.8" font-size="8.5" text-anchor="middle" fill="#1a1a1a">0.0412</text>
<line x1="960.1" y1="322.8" x2="1017" y2="322.8" stroke="#1a1a1a" stroke-width="1.6"/>
<text x="988.5" y="315.3" font-size="8.5" text-anchor="middle" fill="#1a1a1a">0.0052</text>
<line x1="985.1" y1="350" x2="1017.2" y2="350" stroke="#1a1a1a" stroke-width="1.6"/>
<text x="1001.2" y="342.5" font-size="8.5" text-anchor="middle" fill="#1a1a1a">0.0412</text>
<line x1="178" y1="266.3" x2="258" y2="266.3" stroke="#000" stroke-width="3"/>
<text x="218" y="260.5" font-size="16.3" font-weight="bold" text-anchor="middle">α (1A.1)</text>
<line x1="287" y1="266.3" x2="481" y2="266.3" stroke="#000" stroke-width="3"/>
<text x="384" y="260.5" font-size="16.3" font-weight="bold" text-anchor="middle">β (1A.2)</text>
<line x1="497" y1="266.3" x2="809" y2="266.3" stroke="#000" stroke-width="3"/>
<text x="646.4" y="260.5" font-size="16.6" font-weight="bold" text-anchor="middle">γ (1A.3.3.3)</text>
<line x1="830.5" y1="266.3" x2="932" y2="266.3" stroke="#000" stroke-width="3"/>
<text x="881.2" y="260.5" font-size="16.3" font-weight="bold" text-anchor="middle">δ1 (1B.2.2)</text>
<line x1="941.6" y1="266.3" x2="1135" y2="266.3" stroke="#000" stroke-width="3"/>
<text x="1038.3" y="260.5" font-size="16.3" font-weight="bold" text-anchor="middle">npdm (1A.3.3.2)</text>
<text x="126.8" y="366" font-size="14.8" font-weight="bold" text-anchor="middle" transform="rotate(-90 126.8 366)">HI Titer (log<tspan font-size="10.5" dy="3">2</tspan><tspan dy="-3">)</tspan></text>
<rect x="1220.6" y="232.6" width="27" height="12" fill="#064d61" stroke="#000" stroke-width="2.6"/>
<text x="1266.7" y="247.1" font-size="22.5">Epi</text>
<rect x="1220.6" y="271.6" width="27" height="12" fill="#a10000" stroke="#000" stroke-width="2.6"/>
<text x="1266.7" y="285.3" font-size="22.5">WT</text>
<rect x="1220.6" y="310.5" width="27" height="12" fill="#a2a1a6" stroke="#000" stroke-width="2.6"/>
<text x="1266.7" y="323.9" font-size="22.5">FluSure XP</text>
<line x1="172.6" y1="749.8" x2="444.6" y2="749.8" stroke="#000" stroke-width="2.3" stroke-linecap="round" stroke-dasharray="0 6.1"/>
<rect x="176.5" y="730.3" width="15.2" height="73.4" fill="#064d61" stroke="#000" stroke-width="2"/>
<circle cx="184.1" cy="684.8" r="3.6"/>
<circle cx="184.1" cy="733.5" r="3.6"/>
<circle cx="178.3" cy="733.5" r="3.6"/>
<circle cx="189.8" cy="733.5" r="3.6"/>
<circle cx="184.1" cy="766" r="3.6"/>
<line x1="184.1" y1="717.3" x2="184.1" y2="743.3" stroke="#000" stroke-width="1.4"/>
<line x1="179.6" y1="717.3" x2="188.6" y2="717.3" stroke="#000" stroke-width="1.7"/>
<line x1="179.6" y1="743.3" x2="188.6" y2="743.3" stroke="#000" stroke-width="1.7"/>
<rect x="202" y="747.3" width="15.2" height="56.4" fill="#a10000" stroke="#000" stroke-width="2"/>
<rect x="206" y="729.9" width="7.2" height="7.2"/>
<rect x="200.2" y="729.9" width="7.2" height="7.2"/>
<rect x="211.8" y="729.9" width="7.2" height="7.2"/>
<rect x="201" y="762.4" width="7.2" height="7.2"/>
<rect x="211" y="762.4" width="7.2" height="7.2"/>
<line x1="209.6" y1="739.4" x2="209.6" y2="755.3" stroke="#000" stroke-width="1.4"/>
<line x1="205.1" y1="739.4" x2="214.1" y2="739.4" stroke="#000" stroke-width="1.7"/>
<line x1="205.1" y1="755.3" x2="214.1" y2="755.3" stroke="#000" stroke-width="1.7"/>
<rect x="227.5" y="798.5" width="15.2" height="5.2" fill="#a2a1a6" stroke="#000" stroke-width="2"/>
<path d="M235.1 794.5L238.7 801.4L231.5 801.4Z"/>
<path d="M232.2 794.5L235.8 801.4L228.6 801.4Z"/>
<path d="M238 794.5L241.6 801.4L234.4 801.4Z"/>
<path d="M229.3 794.5L232.9 801.4L225.8 801.4Z"/>
<path d="M240.8 794.5L244.4 801.4L237.2 801.4Z"/>
<rect x="272" y="730.3" width="15.2" height="73.4" fill="#064d61" stroke="#000" stroke-width="2"/>
<circle cx="279.6" cy="668.6" r="3.6"/>
<circle cx="274.6" cy="733.5" r="3.6"/>
<circle cx="284.6" cy="733.5" r="3.6"/>
<circle cx="279.6" cy="749.8" r="3.6"/>
<circle cx="279.6" cy="766" r="3.6"/>
<line x1="279.6" y1="713.7" x2="279.6" y2="746.9" stroke="#000" stroke-width="1.4"/>
<line x1="275.1" y1="713.7" x2="284.1" y2="713.7" stroke="#000" stroke-width="1.7"/>
<line x1="275.1" y1="746.9" x2="284.1" y2="746.9" stroke="#000" stroke-width="1.7"/>
<rect x="297.5" y="747.3" width="15.2" height="56.4" fill="#a10000" stroke="#000" stroke-width="2"/>
<rect x="301.5" y="713.7" width="7.2" height="7.2"/>
<rect x="296.5" y="729.9" width="7.2" height="7.2"/>
<rect x="306.5" y="729.9" width="7.2" height="7.2"/>
<rect x="301.5" y="762.4" width="7.2" height="7.2"/>
<rect x="301.5" y="778.7" width="7.2" height="7.2"/>
<line x1="305.1" y1="735.4" x2="305.1" y2="759.3" stroke="#000" stroke-width="1.4"/>
<line x1="300.6" y1="735.4" x2="309.6" y2="735.4" stroke="#000" stroke-width="1.7"/>
<line x1="300.6" y1="759.3" x2="309.6" y2="759.3" stroke="#000" stroke-width="1.7"/>
<rect x="323" y="798.5" width="15.2" height="5.2" fill="#a2a1a6" stroke="#000" stroke-width="2"/>
<path d="M330.6 794.5L334.2 801.4L327 801.4Z"/>
<path d="M327.7 794.5L331.3 801.4L324.1 801.4Z"/>
<path d="M333.5 794.5L337.1 801.4L329.9 801.4Z"/>
<path d="M324.9 794.5L328.5 801.4L321.2 801.4Z"/>
<path d="M336.4 794.5L340 801.4L332.8 801.4Z"/>
<rect x="366.7" y="769.9" width="15.2" height="33.8" fill="#064d61" stroke="#000" stroke-width="2"/>
<circle cx="374.3" cy="749.8" r="3.6"/>
<circle cx="369.3" cy="766" r="3.6"/>
<circle cx="379.3" cy="766" r="3.6"/>
<circle cx="369.3" cy="782.3" r="3.6"/>
<circle cx="379.3" cy="782.3" r="3.6"/>
<line x1="374.3" y1="763.8" x2="374.3" y2="776" stroke="#000" stroke-width="1.4"/>
<line x1="369.8" y1="763.8" x2="378.8" y2="763.8" stroke="#000" stroke-width="1.7"/>
<line x1="369.8" y1="776" x2="378.8" y2="776" stroke="#000" stroke-width="1.7"/>
<rect x="392.2" y="795.6" width="15.2" height="8.1" fill="#a10000" stroke="#000" stroke-width="2"/>
<rect x="396.2" y="778.7" width="7.2" height="7.2"/>
<rect x="394.3" y="794.9" width="7.2" height="7.2"/>
<rect x="398.1" y="794.9" width="7.2" height="7.2"/>
<rect x="390.4" y="794.9" width="7.2" height="7.2"/>
<rect x="401.9" y="794.9" width="7.2" height="7.2"/>
<line x1="399.8" y1="792.3" x2="399.8" y2="798.8" stroke="#000" stroke-width="1.4"/>
<line x1="395.3" y1="792.3" x2="404.3" y2="792.3" stroke="#000" stroke-width="1.7"/>
<line x1="395.3" y1="798.8" x2="404.3" y2="798.8" stroke="#000" stroke-width="1.7"/>
<rect x="417.7" y="798.5" width="15.2" height="5.2" fill="#a2a1a6" stroke="#000" stroke-width="2"/>
<path d="M425.3 794.5L428.9 801.4L421.7 801.4Z"/>
<path d="M422.4 794.5L426 801.4L418.8 801.4Z"/>
<path d="M428.2 794.5L431.8 801.4L424.6 801.4Z"/>
<path d="M419.6 794.5L423.2 801.4L415.9 801.4Z"/>
<path d="M431.1 794.5L434.7 801.4L427.4 801.4Z"/>
<line x1="166.6" y1="618.9" x2="166.6" y2="805.1" stroke="#000" stroke-width="2.7"/>
<line x1="165.2" y1="803.7" x2="444.6" y2="803.7" stroke="#000" stroke-width="2.7"/>
<line x1="158.6" y1="803.7" x2="166.6" y2="803.7" stroke="#000" stroke-width="2.7"/>
<text x="154.8" y="808.6" font-size="13.6" font-weight="bold" text-anchor="end">2</text>
<line x1="158.6" y1="787.5" x2="166.6" y2="787.5" stroke="#000" stroke-width="2.7"/>
<text x="154.8" y="792.4" font-size="13.6" font-weight="bold" text-anchor="end">3</text>
<line x1="158.6" y1="771.2" x2="166.6" y2="771.2" stroke="#000" stroke-width="2.7"/>
<text x="154.8" y="776.1" font-size="13.6" font-weight="bold" text-anchor="end">4</text>
<line x1="158.6" y1="755" x2="166.6" y2="755" stroke="#000" stroke-width="2.7"/>
<text x="154.8" y="759.9" font-size="13.6" font-weight="bold" text-anchor="end">5</text>
<line x1="158.6" y1="738.7" x2="166.6" y2="738.7" stroke="#000" stroke-width="2.7"/>
<text x="154.8" y="743.6" font-size="13.6" font-weight="bold" text-anchor="end">6</text>
<line x1="158.6" y1="722.5" x2="166.6" y2="722.5" stroke="#000" stroke-width="2.7"/>
<text x="154.8" y="727.4" font-size="13.6" font-weight="bold" text-anchor="end">7</text>
<line x1="158.6" y1="706.3" x2="166.6" y2="706.3" stroke="#000" stroke-width="2.7"/>
<text x="154.8" y="711.2" font-size="13.6" font-weight="bold" text-anchor="end">8</text>
<line x1="158.6" y1="690" x2="166.6" y2="690" stroke="#000" stroke-width="2.7"/>
<text x="154.8" y="694.9" font-size="13.6" font-weight="bold" text-anchor="end">9</text>
<line x1="158.6" y1="673.8" x2="166.6" y2="673.8" stroke="#000" stroke-width="2.7"/>
<text x="154.8" y="678.7" font-size="13.6" font-weight="bold" text-anchor="end">10</text>
<line x1="158.6" y1="657.5" x2="166.6" y2="657.5" stroke="#000" stroke-width="2.7"/>
<text x="154.8" y="662.4" font-size="13.6" font-weight="bold" text-anchor="end">11</text>
<line x1="158.6" y1="641.3" x2="166.6" y2="641.3" stroke="#000" stroke-width="2.7"/>
<text x="154.8" y="646.2" font-size="13.6" font-weight="bold" text-anchor="end">12</text>
<line x1="158.6" y1="625.1" x2="166.6" y2="625.1" stroke="#000" stroke-width="2.7"/>
<text x="154.8" y="630" font-size="13.6" font-weight="bold" text-anchor="end">13</text>
<line x1="209.6" y1="803.7" x2="209.6" y2="812.7" stroke="#000" stroke-width="2.7"/>
<line x1="305.1" y1="803.7" x2="305.1" y2="812.7" stroke="#000" stroke-width="2.7"/>
<line x1="399.8" y1="803.7" x2="399.8" y2="812.7" stroke="#000" stroke-width="2.7"/>
<text x="213.8" y="824.5" font-size="13.4" font-weight="bold" text-anchor="end" transform="rotate(-45 213.8 824.5)">CA/2009</text>
<text x="309.3" y="824.5" font-size="13.4" font-weight="bold" text-anchor="end" transform="rotate(-45 309.3 824.5)">MI/2015</text>
<text x="404" y="824.5" font-size="13.4" font-weight="bold" text-anchor="end" transform="rotate(-45 404 824.5)">turkey/KS/1980</text>
<line x1="187.6" y1="675.4" x2="234.6" y2="675.4" stroke="#1a1a1a" stroke-width="1.6"/>
<text x="211.1" y="667.9" font-size="8.5" text-anchor="middle" fill="#1a1a1a">0.0004</text>
<line x1="210.6" y1="720.9" x2="236.6" y2="720.9" stroke="#1a1a1a" stroke-width="1.6"/>
<text x="223.6" y="713.4" font-size="8.5" text-anchor="middle" fill="#1a1a1a">0.0034</text>
<line x1="280.4" y1="661" x2="336.4" y2="661" stroke="#1a1a1a" stroke-width="1.6"/>
<text x="308.4" y="653.5" font-size="8.5" text-anchor="middle" fill="#1a1a1a">0.0039</text>
<line x1="304.4" y1="683" x2="334" y2="683" stroke="#1a1a1a" stroke-width="1.6"/>
<text x="319.2" y="675.5" font-size="8.5" text-anchor="middle" fill="#1a1a1a">0.0224</text>
<line x1="375.3" y1="733.2" x2="422" y2="733.2" stroke="#1a1a1a" stroke-width="1.6"/>
<text x="398.6" y="725.7" font-size="8.5" text-anchor="middle" fill="#1a1a1a">0.0006</text>
<line x1="401" y1="773" x2="427.5" y2="773" stroke="#1a1a1a" stroke-width="1.6"/>
<text x="414.2" y="765.5" font-size="8.5" text-anchor="middle" fill="#1a1a1a">0.0016</text>
<line x1="174.6" y1="623" x2="341.8" y2="623" stroke="#000" stroke-width="3"/>
<text x="259" y="616.9" font-size="14.9" font-weight="bold" text-anchor="middle">huH1</text>
<line x1="357" y1="623" x2="440.2" y2="623" stroke="#000" stroke-width="3"/>
<text x="398" y="616.9" font-size="14.9" font-weight="bold" text-anchor="middle">avH1</text>
<text x="130.8" y="710" font-size="14.3" font-weight="bold" text-anchor="middle" transform="rotate(-90 130.8 710)">HI Titer (log<tspan font-size="10" dy="3">2</tspan><tspan dy="-3">)</tspan></text>
<rect x="627.9" y="593.4" width="59.3" height="22.4" fill="#f3f6f7"/>
<rect x="686.9" y="593.4" width="59.3" height="22.4" fill="#ffffff"/>
<rect x="746" y="593.4" width="59.3" height="22.4" fill="#ffffff"/>
<line x1="620.8" y1="604.4" x2="627.9" y2="604.4" stroke="#000" stroke-width="2"/>
<text x="619" y="609.2" font-size="13.2" font-weight="bold" text-anchor="end">IA/1973</text>
<rect x="627.9" y="615.5" width="59.3" height="22.4" fill="#ecf1f3"/>
<rect x="686.9" y="615.5" width="59.3" height="22.4" fill="#ffffff"/>
<rect x="746" y="615.5" width="59.3" height="22.4" fill="#ffffff"/>
<line x1="620.8" y1="626.5" x2="627.9" y2="626.5" stroke="#000" stroke-width="2"/>
<text x="619" y="631.3" font-size="13.2" font-weight="bold" text-anchor="end">SD/2012</text>
<rect x="627.9" y="637.6" width="59.3" height="22.4" fill="#c1d2d6"/>
<rect x="686.9" y="637.6" width="59.3" height="22.4" fill="#ffffff"/>
<rect x="746" y="637.6" width="59.3" height="22.4" fill="#ffffff"/>
<line x1="620.8" y1="648.6" x2="627.9" y2="648.6" stroke="#000" stroke-width="2"/>
<text x="619" y="653.4" font-size="13.2" font-weight="bold" text-anchor="end">MO/2013</text>
<rect x="627.9" y="659.6" width="59.3" height="22.4" fill="#618c97"/>
<rect x="686.9" y="659.6" width="59.3" height="22.4" fill="#7da0aa"/>
<rect x="746" y="659.6" width="59.3" height="22.4" fill="#f4f7f8"/>
<line x1="620.8" y1="670.7" x2="627.9" y2="670.7" stroke="#000" stroke-width="2"/>
<text x="619" y="675.4" font-size="13.2" font-weight="bold" text-anchor="end">MN/2012</text>
<rect x="627.9" y="681.7" width="59.3" height="22.4" fill="#96b3ba"/>
<rect x="686.9" y="681.7" width="59.3" height="22.4" fill="#b6cacf"/>
<rect x="746" y="681.7" width="59.3" height="22.4" fill="#ffffff"/>
<line x1="620.8" y1="692.8" x2="627.9" y2="692.8" stroke="#000" stroke-width="2"/>
<text x="619" y="697.5" font-size="13.2" font-weight="bold" text-anchor="end">MN/2015</text>
<rect x="627.9" y="703.8" width="59.3" height="22.4" fill="#95b2ba"/>
<rect x="686.9" y="703.8" width="59.3" height="22.4" fill="#b6cacf"/>
<rect x="746" y="703.8" width="59.3" height="22.4" fill="#d5e0e3"/>
<line x1="620.8" y1="714.9" x2="627.9" y2="714.9" stroke="#000" stroke-width="2"/>
<text x="619" y="719.6" font-size="13.2" font-weight="bold" text-anchor="end">WY/2013</text>
<rect x="627.9" y="725.9" width="59.3" height="22.4" fill="#bccfd3"/>
<rect x="686.9" y="725.9" width="59.3" height="22.4" fill="#9cb7be"/>
<rect x="746" y="725.9" width="59.3" height="22.4" fill="#f9fafb"/>
<line x1="620.8" y1="736.9" x2="627.9" y2="736.9" stroke="#000" stroke-width="2"/>
<text x="619" y="741.7" font-size="13.2" font-weight="bold" text-anchor="end">AR/2015</text>
<rect x="627.9" y="748" width="59.3" height="22.4" fill="#96b3bb"/>
<rect x="686.9" y="748" width="59.3" height="22.4" fill="#b6cacf"/>
<rect x="746" y="748" width="59.3" height="22.4" fill="#ffffff"/>
<line x1="620.8" y1="759" x2="627.9" y2="759" stroke="#000" stroke-width="2"/>
<text x="619" y="763.8" font-size="13.2" font-weight="bold" text-anchor="end">KS/2014</text>
<rect x="627.9" y="770.1" width="59.3" height="22.4" fill="#a3bcc3"/>
<rect x="686.9" y="770.1" width="59.3" height="22.4" fill="#b6cacf"/>
<rect x="746" y="770.1" width="59.3" height="22.4" fill="#b0c6cb"/>
<line x1="620.8" y1="781.1" x2="627.9" y2="781.1" stroke="#000" stroke-width="2"/>
<text x="619" y="785.9" font-size="13.2" font-weight="bold" text-anchor="end">OH/2009</text>
<rect x="627.9" y="792.1" width="59.3" height="22.4" fill="#7ca0a9"/>
<rect x="686.9" y="792.1" width="59.3" height="22.4" fill="#9db8bf"/>
<rect x="746" y="792.1" width="59.3" height="22.4" fill="#ffffff"/>
<line x1="620.8" y1="803.2" x2="627.9" y2="803.2" stroke="#000" stroke-width="2"/>
<text x="619" y="807.9" font-size="13.2" font-weight="bold" text-anchor="end">CA/2009</text>
<rect x="627.9" y="814.2" width="59.3" height="22.4" fill="#7ca0a9"/>
<rect x="686.9" y="814.2" width="59.3" height="22.4" fill="#9db8bf"/>
<rect x="746" y="814.2" width="59.3" height="22.4" fill="#ffffff"/>
<line x1="620.8" y1="825.3" x2="627.9" y2="825.3" stroke="#000" stroke-width="2"/>
<text x="619" y="830" font-size="13.2" font-weight="bold" text-anchor="end">MI/2015</text>
<rect x="627.9" y="836.3" width="59.3" height="22.4" fill="#c7d6da"/>
<rect x="686.9" y="836.3" width="59.3" height="22.4" fill="#f9fbfb"/>
<rect x="746" y="836.3" width="59.3" height="22.4" fill="#ffffff"/>
<line x1="620.8" y1="847.4" x2="627.9" y2="847.4" stroke="#000" stroke-width="2"/>
<text x="619" y="852.1" font-size="13.2" font-weight="bold" text-anchor="end">turkey/KS/1980</text>
<rect x="627.9" y="593.4" width="177.1" height="265" fill="none" stroke="#000" stroke-width="2.2"/>
<line x1="657.4" y1="586.9" x2="657.4" y2="593.4" stroke="#000" stroke-width="2"/>
<text x="657" y="581.4" font-size="13.2" font-weight="bold" text-anchor="middle">Epi</text>
<line x1="716.5" y1="586.9" x2="716.5" y2="593.4" stroke="#000" stroke-width="2"/>
<text x="716.5" y="581.4" font-size="13.2" font-weight="bold" text-anchor="middle">WT</text>
<line x1="775.5" y1="586.9" x2="775.5" y2="593.4" stroke="#000" stroke-width="2"/>
<text x="775.6" y="581.4" font-size="13.2" font-weight="bold" text-anchor="middle">FluSure XP</text>
<linearGradient id="cb1" x1="0" y1="0" x2="0" y2="1"><stop offset="0" stop-color="#064a5c"/><stop offset="1" stop-color="#ffffff"/></linearGradient>
<rect x="827" y="593.4" width="22.8" height="265" fill="url(#cb1)" stroke="#000" stroke-width="2.2"/>
<line x1="827" y1="605.1" x2="832" y2="605.1" stroke="#000" stroke-width="2"/>
<line x1="844.8" y1="605.1" x2="849.8" y2="605.1" stroke="#000" stroke-width="2"/>
<text x="856.5" y="610.1" font-size="14.5">10</text>
<line x1="827" y1="671.1" x2="832" y2="671.1" stroke="#000" stroke-width="2"/>
<line x1="844.8" y1="671.1" x2="849.8" y2="671.1" stroke="#000" stroke-width="2"/>
<text x="856.5" y="676.1" font-size="14.5">8</text>
<line x1="827" y1="737.1" x2="832" y2="737.1" stroke="#000" stroke-width="2"/>
<line x1="844.8" y1="737.1" x2="849.8" y2="737.1" stroke="#000" stroke-width="2"/>
<text x="856.5" y="742.1" font-size="14.5">6</text>
<line x1="827" y1="803.1" x2="832" y2="803.1" stroke="#000" stroke-width="2"/>
<line x1="844.8" y1="803.1" x2="849.8" y2="803.1" stroke="#000" stroke-width="2"/>
<text x="856.5" y="808.1" font-size="14.5">4</text>
<text x="903.8" y="714" font-size="23" text-anchor="middle" transform="rotate(90 903.8 714)">HI titer<tspan dx="12">(log</tspan><tspan font-size="16" dy="5">2</tspan><tspan dy="-5">)</tspan></text>
<text x="48" y="975.6" font-size="63" font-weight="bold" transform="translate(48 0) scale(0.853 1) translate(-48 0)">C</text>
<rect x="174" y="1188.3" width="21.4" height="12.7" fill="#064d61" stroke="#000" stroke-width="2.2"/>
<circle cx="184.7" cy="1174.6" r="3.4"/>
<circle cx="184.7" cy="1182.8" r="3.4"/>
<circle cx="184.7" cy="1191.9" r="3.4"/>
<circle cx="175.6" cy="1196.5" r="3.4"/>
<circle cx="193.9" cy="1196.5" r="3.4"/>
<line x1="184.7" y1="1184" x2="184.7" y2="1192.5" stroke="#000" stroke-width="1.4"/>
<line x1="179.7" y1="1184" x2="189.7" y2="1184" stroke="#000" stroke-width="1.7"/>
<line x1="179.7" y1="1192.5" x2="189.7" y2="1192.5" stroke="#000" stroke-width="1.7"/>
<rect x="216.9" y="1189.4" width="6.8" height="6.8"/>
<rect x="245.2" y="1192.8" width="21.4" height="8.2" fill="#a2a1a6" stroke="#000" stroke-width="2.2"/>
<path d="M255.9 1174.5L259.3 1181L252.5 1181Z"/>
<path d="M252.8 1186.3L256.2 1192.8L249.4 1192.8Z"/>
<path d="M258.9 1192.7L262.3 1199.2L255.5 1199.2Z"/>
<path d="M246.8 1197.3L250.2 1203.7L243.3 1203.7Z"/>
<path d="M265.1 1197.3L268.4 1203.7L261.7 1203.7Z"/>
<line x1="255.9" y1="1188.3" x2="255.9" y2="1197.4" stroke="#000" stroke-width="1.4"/>
<line x1="250.9" y1="1188.3" x2="260.9" y2="1188.3" stroke="#000" stroke-width="1.7"/>
<line x1="250.9" y1="1197.4" x2="260.9" y2="1197.4" stroke="#000" stroke-width="1.7"/>
<rect x="305.1" y="1174.6" width="21.4" height="26.4" fill="#064d61" stroke="#000" stroke-width="2.2"/>
<circle cx="315.8" cy="1144.6" r="3.4"/>
<circle cx="312.7" cy="1178.2" r="3.4"/>
<circle cx="318.8" cy="1182.8" r="3.4"/>
<circle cx="306.6" cy="1182.8" r="3.4"/>
<circle cx="324.9" cy="1187.3" r="3.4"/>
<line x1="315.8" y1="1166.8" x2="315.8" y2="1182.4" stroke="#000" stroke-width="1.4"/>
<line x1="310.8" y1="1166.8" x2="320.8" y2="1166.8" stroke="#000" stroke-width="1.7"/>
<line x1="310.8" y1="1182.4" x2="320.8" y2="1182.4" stroke="#000" stroke-width="1.7"/>
<rect x="340.7" y="1197.4" width="21.4" height="3.6" fill="#a10000" stroke="#000" stroke-width="2.2"/>
<rect x="348" y="1193" width="6.8" height="6.8"/>
<rect x="343.4" y="1194" width="6.8" height="6.8"/>
<rect x="352.6" y="1194.9" width="6.8" height="6.8"/>
<rect x="338.9" y="1194.9" width="6.8" height="6.8"/>
<rect x="357.1" y="1195.8" width="6.8" height="6.8"/>
<line x1="351.4" y1="1196.9" x2="351.4" y2="1197.8" stroke="#000" stroke-width="1.4"/>
<line x1="346.4" y1="1196.9" x2="356.4" y2="1196.9" stroke="#000" stroke-width="1.7"/>
<line x1="346.4" y1="1197.8" x2="356.4" y2="1197.8" stroke="#000" stroke-width="1.7"/>
<rect x="376.3" y="1190.1" width="21.4" height="10.9" fill="#a2a1a6" stroke="#000" stroke-width="2.2"/>
<path d="M387 1185.4L390.4 1191.9L383.6 1191.9Z"/>
<path d="M382.4 1186.3L385.8 1192.8L379 1192.8Z"/>
<path d="M391.6 1186.3L395 1192.8L388.2 1192.8Z"/>
<path d="M377.9 1187.2L381.2 1193.7L374.5 1193.7Z"/>
<path d="M396.1 1187.2L399.5 1193.7L392.8 1193.7Z"/>
<line x1="387" y1="1189.2" x2="387" y2="1191" stroke="#000" stroke-width="1.4"/>
<line x1="382" y1="1189.2" x2="392" y2="1189.2" stroke="#000" stroke-width="1.7"/>
<line x1="382" y1="1191" x2="392" y2="1191" stroke="#000" stroke-width="1.7"/>
<rect x="436.2" y="1183.7" width="21.4" height="17.3" fill="#064d61" stroke="#000" stroke-width="2.2"/>
<circle cx="446.9" cy="1173.7" r="3.4"/>
<circle cx="443.8" cy="1182.8" r="3.4"/>
<circle cx="449.9" cy="1184.6" r="3.4"/>
<circle cx="437.8" cy="1187.3" r="3.4"/>
<circle cx="456" cy="1190.1" r="3.4"/>
<line x1="446.9" y1="1180.9" x2="446.9" y2="1186.5" stroke="#000" stroke-width="1.4"/>
<line x1="441.9" y1="1180.9" x2="451.9" y2="1180.9" stroke="#000" stroke-width="1.7"/>
<line x1="441.9" y1="1186.5" x2="451.9" y2="1186.5" stroke="#000" stroke-width="1.7"/>
<rect x="471.8" y="1196.5" width="21.4" height="4.5" fill="#a10000" stroke="#000" stroke-width="2.2"/>
<rect x="479.1" y="1149.4" width="6.8" height="6.8"/>
<line x1="482.5" y1="1185.5" x2="482.5" y2="1201" stroke="#000" stroke-width="1.4"/>
<line x1="477.5" y1="1185.5" x2="487.5" y2="1185.5" stroke="#000" stroke-width="1.7"/>
<rect x="567.3" y="1130" width="21.4" height="71" fill="#064d61" stroke="#000" stroke-width="2.2"/>
<circle cx="569.5" cy="1097.6" r="3.4"/>
<circle cx="586.5" cy="1102.7" r="3.4"/>
<circle cx="578" cy="1138.4" r="3.4"/>
<circle cx="578" cy="1147.6" r="3.4"/>
<circle cx="578" cy="1160.7" r="3.4"/>
<line x1="578" y1="1117.5" x2="578" y2="1142.5" stroke="#000" stroke-width="1.4"/>
<line x1="573" y1="1117.5" x2="583" y2="1117.5" stroke="#000" stroke-width="1.7"/>
<line x1="573" y1="1142.5" x2="583" y2="1142.5" stroke="#000" stroke-width="1.7"/>
<rect x="602.9" y="1196.5" width="21.4" height="4.5" fill="#a10000" stroke="#000" stroke-width="2.2"/>
<rect x="601.7" y="1188.9" width="6.8" height="6.8"/>
<rect x="618.7" y="1188.9" width="6.8" height="6.8"/>
<rect x="610.2" y="1195.8" width="6.8" height="6.8"/>
<rect x="601" y="1195.8" width="6.8" height="6.8"/>
<rect x="619.3" y="1196.7" width="6.8" height="6.8"/>
<line x1="613.6" y1="1194.7" x2="613.6" y2="1198.2" stroke="#000" stroke-width="1.4"/>
<line x1="608.6" y1="1194.7" x2="618.6" y2="1194.7" stroke="#000" stroke-width="1.7"/>
<line x1="608.6" y1="1198.2" x2="618.6" y2="1198.2" stroke="#000" stroke-width="1.7"/>
<rect x="638.5" y="1191.9" width="21.4" height="9.1" fill="#a2a1a6" stroke="#000" stroke-width="2.2"/>
<path d="M649.2 1187.2L652.6 1193.7L645.8 1193.7Z"/>
<path d="M644.6 1188.2L648 1194.6L641.2 1194.6Z"/>
<path d="M653.8 1188.2L657.2 1194.6L650.4 1194.6Z"/>
<path d="M640 1189.1L643.4 1195.5L636.6 1195.5Z"/>
<path d="M658.3 1189.1L661.7 1195.5L654.9 1195.5Z"/>
<line x1="649.2" y1="1191.2" x2="649.2" y2="1192.6" stroke="#000" stroke-width="1.4"/>
<line x1="644.2" y1="1191.2" x2="654.2" y2="1191.2" stroke="#000" stroke-width="1.7"/>
<line x1="644.2" y1="1192.6" x2="654.2" y2="1192.6" stroke="#000" stroke-width="1.7"/>
<rect x="698.4" y="1147.3" width="21.4" height="53.7" fill="#064d61" stroke="#000" stroke-width="2.2"/>
<circle cx="709.1" cy="1109.1" r="3.4"/>
<circle cx="700.6" cy="1150" r="3.4"/>
<circle cx="717.6" cy="1150" r="3.4"/>
<circle cx="709.1" cy="1158.2" r="3.4"/>
<circle cx="709.1" cy="1169.2" r="3.4"/>
<line x1="709.1" y1="1137.1" x2="709.1" y2="1157.5" stroke="#000" stroke-width="1.4"/>
<line x1="704.1" y1="1137.1" x2="714.1" y2="1137.1" stroke="#000" stroke-width="1.7"/>
<line x1="704.1" y1="1157.5" x2="714.1" y2="1157.5" stroke="#000" stroke-width="1.7"/>
<rect x="734" y="1193.7" width="21.4" height="7.3" fill="#a10000" stroke="#000" stroke-width="2.2"/>
<rect x="741.3" y="1183.9" width="6.8" height="6.8"/>
<rect x="736.7" y="1188.5" width="6.8" height="6.8"/>
<rect x="745.9" y="1192.1" width="6.8" height="6.8"/>
<rect x="732.2" y="1193" width="6.8" height="6.8"/>
<rect x="750.5" y="1194" width="6.8" height="6.8"/>
<line x1="744.7" y1="1191.9" x2="744.7" y2="1195.6" stroke="#000" stroke-width="1.4"/>
<line x1="739.7" y1="1191.9" x2="749.7" y2="1191.9" stroke="#000" stroke-width="1.7"/>
<line x1="739.7" y1="1195.6" x2="749.7" y2="1195.6" stroke="#000" stroke-width="1.7"/>
<rect x="769.6" y="1185.5" width="21.4" height="15.5" fill="#a2a1a6" stroke="#000" stroke-width="2.2"/>
<path d="M780.3 1178.1L783.7 1184.6L776.9 1184.6Z"/>
<path d="M775.7 1179.1L779.1 1185.5L772.3 1185.5Z"/>
<path d="M784.9 1182.7L788.3 1189.2L781.5 1189.2Z"/>
<path d="M771.2 1184.5L774.6 1191L767.8 1191Z"/>
<path d="M789.5 1186.3L792.9 1192.8L786.1 1192.8Z"/>
<line x1="780.3" y1="1184" x2="780.3" y2="1187.1" stroke="#000" stroke-width="1.4"/>
<line x1="775.3" y1="1184" x2="785.3" y2="1184" stroke="#000" stroke-width="1.7"/>
<line x1="775.3" y1="1187.1" x2="785.3" y2="1187.1" stroke="#000" stroke-width="1.7"/>
<rect x="829.5" y="1100.9" width="21.4" height="100.1" fill="#064d61" stroke="#000" stroke-width="2.2"/>
<circle cx="840.2" cy="1138.2" r="3.4"/>
<circle cx="831" cy="1138.2" r="3.4"/>
<circle cx="849.3" cy="1138.2" r="3.4"/>
<circle cx="840.2" cy="1173.7" r="3.4"/>
<line x1="840.2" y1="1050.8" x2="840.2" y2="1151" stroke="#000" stroke-width="1.4"/>
<line x1="835.2" y1="1050.8" x2="845.2" y2="1050.8" stroke="#000" stroke-width="1.7"/>
<line x1="835.2" y1="1151" x2="845.2" y2="1151" stroke="#000" stroke-width="1.7"/>
<rect x="865.1" y="1183.7" width="21.4" height="17.3" fill="#a10000" stroke="#000" stroke-width="2.2"/>
<rect x="872.4" y="1173" width="6.8" height="6.8"/>
<rect x="867.8" y="1177.6" width="6.8" height="6.8"/>
<rect x="877" y="1179.4" width="6.8" height="6.8"/>
<rect x="863.2" y="1183.9" width="6.8" height="6.8"/>
<rect x="881.5" y="1188.5" width="6.8" height="6.8"/>
<line x1="875.8" y1="1181.1" x2="875.8" y2="1186.4" stroke="#000" stroke-width="1.4"/>
<line x1="870.8" y1="1181.1" x2="880.8" y2="1181.1" stroke="#000" stroke-width="1.7"/>
<line x1="870.8" y1="1186.4" x2="880.8" y2="1186.4" stroke="#000" stroke-width="1.7"/>
<rect x="900.7" y="1195.5" width="21.4" height="5.5" fill="#a2a1a6" stroke="#000" stroke-width="2.2"/>
<path d="M911.4 1190L914.8 1196.4L908 1196.4Z"/>
<path d="M906.8 1190.9L910.2 1197.3L903.4 1197.3Z"/>
<path d="M916 1191.8L919.4 1198.3L912.6 1198.3Z"/>
<path d="M902.2 1192.7L905.6 1199.2L898.9 1199.2Z"/>
<path d="M920.5 1193.6L923.9 1200.1L917.1 1200.1Z"/>
<line x1="911.4" y1="1194.6" x2="911.4" y2="1196.5" stroke="#000" stroke-width="1.4"/>
<line x1="906.4" y1="1194.6" x2="916.4" y2="1194.6" stroke="#000" stroke-width="1.7"/>
<line x1="906.4" y1="1196.5" x2="916.4" y2="1196.5" stroke="#000" stroke-width="1.7"/>
<rect x="960.6" y="1161.9" width="21.4" height="39.1" fill="#064d61" stroke="#000" stroke-width="2.2"/>
<circle cx="971.3" cy="1133" r="3.4"/>
<circle cx="971.3" cy="1158.2" r="3.4"/>
<circle cx="962.8" cy="1170.1" r="3.4"/>
<circle cx="979.8" cy="1170.1" r="3.4"/>
<circle cx="971.3" cy="1178.7" r="3.4"/>
<line x1="971.3" y1="1153.9" x2="971.3" y2="1169.8" stroke="#000" stroke-width="1.4"/>
<line x1="966.3" y1="1153.9" x2="976.3" y2="1153.9" stroke="#000" stroke-width="1.7"/>
<line x1="966.3" y1="1169.8" x2="976.3" y2="1169.8" stroke="#000" stroke-width="1.7"/>
<rect x="996.2" y="1192.8" width="21.4" height="8.2" fill="#a10000" stroke="#000" stroke-width="2.2"/>
<rect x="1003.5" y="1173.9" width="6.8" height="6.8"/>
<rect x="1000.4" y="1192.1" width="6.8" height="6.8"/>
<rect x="1006.5" y="1193" width="6.8" height="6.8"/>
<rect x="994.3" y="1194" width="6.8" height="6.8"/>
<rect x="1012.6" y="1194" width="6.8" height="6.8"/>
<line x1="1006.9" y1="1188.9" x2="1006.9" y2="1196.7" stroke="#000" stroke-width="1.4"/>
<line x1="1001.9" y1="1188.9" x2="1011.9" y2="1188.9" stroke="#000" stroke-width="1.7"/>
<line x1="1001.9" y1="1196.7" x2="1011.9" y2="1196.7" stroke="#000" stroke-width="1.7"/>
<rect x="1031.8" y="1190.1" width="21.4" height="10.9" fill="#a2a1a6" stroke="#000" stroke-width="2.2"/>
<path d="M1042.5 1182.7L1045.9 1189.2L1039.1 1189.2Z"/>
<path d="M1037.9 1184.5L1041.3 1191L1034.5 1191Z"/>
<path d="M1047.1 1186.3L1050.5 1192.8L1043.7 1192.8Z"/>
<path d="M1033.3 1188.2L1036.7 1194.6L1029.9 1194.6Z"/>
<path d="M1051.6 1192.7L1055 1199.2L1048.2 1199.2Z"/>
<line x1="1042.5" y1="1188.4" x2="1042.5" y2="1191.8" stroke="#000" stroke-width="1.4"/>
<line x1="1037.5" y1="1188.4" x2="1047.5" y2="1188.4" stroke="#000" stroke-width="1.7"/>
<line x1="1037.5" y1="1191.8" x2="1047.5" y2="1191.8" stroke="#000" stroke-width="1.7"/>
<rect x="1091.7" y="1115.5" width="21.4" height="85.5" fill="#064d61" stroke="#000" stroke-width="2.2"/>
<circle cx="1102.4" cy="1085.8" r="3.4"/>
<circle cx="1093.9" cy="1117.7" r="3.4"/>
<circle cx="1110.9" cy="1117.7" r="3.4"/>
<circle cx="1093.9" cy="1128.7" r="3.4"/>
<circle cx="1110.9" cy="1128.7" r="3.4"/>
<line x1="1102.4" y1="1107.6" x2="1102.4" y2="1123.3" stroke="#000" stroke-width="1.4"/>
<line x1="1097.4" y1="1107.6" x2="1107.4" y2="1107.6" stroke="#000" stroke-width="1.7"/>
<line x1="1097.4" y1="1123.3" x2="1107.4" y2="1123.3" stroke="#000" stroke-width="1.7"/>
<rect x="1127.3" y="1163.7" width="21.4" height="37.3" fill="#a10000" stroke="#000" stroke-width="2.2"/>
<rect x="1134.6" y="1138.7" width="6.8" height="6.8"/>
<rect x="1126.1" y="1156.8" width="6.8" height="6.8"/>
<rect x="1143.1" y="1156.8" width="6.8" height="6.8"/>
<rect x="1134.6" y="1167.6" width="6.8" height="6.8"/>
<rect x="1134.6" y="1180.3" width="6.8" height="6.8"/>
<line x1="1138" y1="1156.8" x2="1138" y2="1170.6" stroke="#000" stroke-width="1.4"/>
<line x1="1133" y1="1156.8" x2="1143" y2="1156.8" stroke="#000" stroke-width="1.7"/>
<line x1="1133" y1="1170.6" x2="1143" y2="1170.6" stroke="#000" stroke-width="1.7"/>
<rect x="1162.9" y="1177.3" width="21.4" height="23.7" fill="#a2a1a6" stroke="#000" stroke-width="2.2"/>
<path d="M1173.6 1145.6L1177 1152L1170.2 1152Z"/>
<path d="M1173.6 1164L1177 1170.5L1170.2 1170.5Z"/>
<path d="M1173.6 1182.7L1177 1189.2L1170.2 1189.2Z"/>
<path d="M1165.1 1193.2L1168.5 1199.7L1161.7 1199.7Z"/>
<path d="M1182.1 1193.2L1185.5 1199.7L1178.7 1199.7Z"/>
<line x1="1173.6" y1="1168.1" x2="1173.6" y2="1186.6" stroke="#000" stroke-width="1.4"/>
<line x1="1168.6" y1="1168.1" x2="1178.6" y2="1168.1" stroke="#000" stroke-width="1.7"/>
<line x1="1168.6" y1="1186.6" x2="1178.6" y2="1186.6" stroke="#000" stroke-width="1.7"/>
<line x1="162" y1="925.5" x2="162" y2="1202.3" stroke="#000" stroke-width="2.6"/>
<line x1="160.7" y1="1201" x2="1200.5" y2="1201" stroke="#000" stroke-width="2.6"/>
<line x1="152" y1="1201" x2="162" y2="1201" stroke="#000" stroke-width="2.6"/>
<text x="148.5" y="1206.5" font-size="15.3" font-weight="bold" text-anchor="end">0.0</text>
<line x1="152" y1="1110" x2="162" y2="1110" stroke="#000" stroke-width="2.6"/>
<text x="148.5" y="1115.5" font-size="15.3" font-weight="bold" text-anchor="end">0.1</text>
<line x1="152" y1="1019" x2="162" y2="1019" stroke="#000" stroke-width="2.6"/>
<text x="148.5" y="1024.5" font-size="15.3" font-weight="bold" text-anchor="end">0.2</text>
<line x1="152" y1="928" x2="162" y2="928" stroke="#000" stroke-width="2.6"/>
<text x="148.5" y="933.5" font-size="15.3" font-weight="bold" text-anchor="end">0.3</text>
<line x1="220.3" y1="1201" x2="220.3" y2="1212" stroke="#000" stroke-width="2.6"/>
<line x1="351.4" y1="1201" x2="351.4" y2="1212" stroke="#000" stroke-width="2.6"/>
<line x1="482.5" y1="1201" x2="482.5" y2="1212" stroke="#000" stroke-width="2.6"/>
<line x1="613.6" y1="1201" x2="613.6" y2="1212" stroke="#000" stroke-width="2.6"/>
<line x1="744.7" y1="1201" x2="744.7" y2="1212" stroke="#000" stroke-width="2.6"/>
<line x1="875.8" y1="1201" x2="875.8" y2="1212" stroke="#000" stroke-width="2.6"/>
<line x1="1006.9" y1="1201" x2="1006.9" y2="1212" stroke="#000" stroke-width="2.6"/>
<line x1="1138" y1="1201" x2="1138" y2="1212" stroke="#000" stroke-width="2.6"/>
<text x="224.4" y="1225.2" font-size="15.9" font-weight="bold" text-anchor="end" transform="rotate(-45 224.4 1225.2)">IA/1930</text>
<text x="355.5" y="1225.2" font-size="15.9" font-weight="bold" text-anchor="end" transform="rotate(-45 355.5 1225.2)">IA/1973</text>
<text x="486.6" y="1225.2" font-size="15.9" font-weight="bold" text-anchor="end" transform="rotate(-45 486.6 1225.2)">Tainan/2005</text>
<text x="617.7" y="1225.2" font-size="15.9" font-weight="bold" text-anchor="end" transform="rotate(-45 617.7 1225.2)">KS/2004</text>
<text x="748.8" y="1225.2" font-size="15.9" font-weight="bold" text-anchor="end" transform="rotate(-45 748.8 1225.2)">MN/2015</text>
<text x="879.9" y="1225.2" font-size="15.9" font-weight="bold" text-anchor="end" transform="rotate(-45 879.9 1225.2)">KS/2014</text>
<text x="1011" y="1225.2" font-size="15.9" font-weight="bold" text-anchor="end" transform="rotate(-45 1011 1225.2)">Guangxi/2006</text>
<text x="1142.1" y="1225.2" font-size="15.9" font-weight="bold" text-anchor="end" transform="rotate(-45 1142.1 1225.2)">Hong Kong/2011</text>
<line x1="186" y1="1162" x2="223.8" y2="1162" stroke="#1a1a1a" stroke-width="2.4"/>
<text x="204.9" y="1153" font-size="11.5" text-anchor="middle" fill="#1a1a1a">0.0462</text>
<line x1="319.3" y1="1133" x2="356.4" y2="1133" stroke="#1a1a1a" stroke-width="2.4"/>
<text x="337.9" y="1124" font-size="11.5" text-anchor="middle" fill="#1a1a1a">0.0081</text>
<line x1="451.1" y1="1135.2" x2="517.2" y2="1135.2" stroke="#1a1a1a" stroke-width="2.4"/>
<text x="484.2" y="1126.2" font-size="11.5" text-anchor="middle" fill="#1a1a1a">0.0456</text>
<line x1="580.8" y1="1064.2" x2="647.7" y2="1064.2" stroke="#1a1a1a" stroke-width="2.4"/>
<text x="614.2" y="1055.2" font-size="11.5" text-anchor="middle" fill="#1a1a1a">0.0002</text>
<line x1="581.4" y1="1087.6" x2="619.1" y2="1087.6" stroke="#1a1a1a" stroke-width="2.4"/>
<text x="600.2" y="1078.6" font-size="11.5" text-anchor="middle" fill="#1a1a1a">&lt;0.0001</text>
<line x1="709.3" y1="1072.8" x2="775.9" y2="1072.8" stroke="#1a1a1a" stroke-width="2.4"/>
<text x="742.6" y="1063.8" font-size="11.5" text-anchor="middle" fill="#1a1a1a">0.0023</text>
<line x1="709.9" y1="1096.2" x2="747.6" y2="1096.2" stroke="#1a1a1a" stroke-width="2.4"/>
<text x="728.8" y="1087.2" font-size="11.5" text-anchor="middle" fill="#1a1a1a">0.0004</text>
<line x1="972.9" y1="1100.6" x2="1039.4" y2="1100.6" stroke="#1a1a1a" stroke-width="2.4"/>
<text x="1006.2" y="1091.6" font-size="11.5" text-anchor="middle" fill="#1a1a1a">0.0044</text>
<line x1="972.9" y1="1123.8" x2="1010.9" y2="1123.8" stroke="#1a1a1a" stroke-width="2.4"/>
<text x="991.9" y="1114.8" font-size="11.5" text-anchor="middle" fill="#1a1a1a">0.0038</text>
<line x1="1101.9" y1="1052" x2="1168.2" y2="1052" stroke="#1a1a1a" stroke-width="2.4"/>
<text x="1135.1" y="1043" font-size="11.5" text-anchor="middle" fill="#1a1a1a">0.0004</text>
<line x1="1102.3" y1="1075.8" x2="1139.7" y2="1075.8" stroke="#1a1a1a" stroke-width="2.4"/>
<text x="1121" y="1066.8" font-size="11.5" text-anchor="middle" fill="#1a1a1a">0.0031</text>
<line x1="185" y1="956.7" x2="391.7" y2="956.7" stroke="#000" stroke-width="3"/>
<text x="288.4" y="948.9" font-size="17.3" font-weight="bold" text-anchor="middle">α (1A.1)</text>
<line x1="424.2" y1="956.7" x2="527.1" y2="956.7" stroke="#000" stroke-width="3"/>
<text x="475.6" y="948.9" font-size="17.3" font-weight="bold" text-anchor="middle">1A.1.1</text>
<line x1="562.3" y1="956.7" x2="799" y2="956.7" stroke="#000" stroke-width="3"/>
<text x="686.4" y="948.9" font-size="17.3" font-weight="bold" text-anchor="middle">γ (1A.3.3.3)</text>
<line x1="815" y1="956.7" x2="942.6" y2="956.7" stroke="#000" stroke-width="3"/>
<text x="878.8" y="928.6" font-size="17.3" font-weight="bold" text-anchor="middle">npdm</text>
<text x="878.8" y="950.2" font-size="17.3" font-weight="bold" text-anchor="middle">(1A.3.3.2)</text>
<line x1="957.6" y1="956.7" x2="1199.8" y2="956.7" stroke="#000" stroke-width="3"/>
<text x="1078.7" y="948.9" font-size="17.3" font-weight="bold" text-anchor="middle">1A.3.3.1</text>
<text x="117" y="1064.7" font-size="17.5" font-weight="bold" text-anchor="middle" transform="rotate(-90 117 1064.7)">OD450 nm</text>
<text x="42" y="1370.3" font-size="58.5" font-weight="bold" transform="translate(42 0) scale(1.09 1) translate(-42 0)">D</text>
<line x1="172.6" y1="1517.6" x2="1149.5" y2="1517.6" stroke="#000" stroke-width="2.3" stroke-linecap="round" stroke-dasharray="0 6.1"/>
<rect x="177.2" y="1485.6" width="17.8" height="90" fill="#064d61" stroke="#000" stroke-width="2"/>
<circle cx="186.1" cy="1465.1" r="3.9"/>
<circle cx="180.1" cy="1482.6" r="3.9"/>
<circle cx="192.1" cy="1482.6" r="3.9"/>
<circle cx="180.1" cy="1500.1" r="3.9"/>
<circle cx="192.1" cy="1500.1" r="3.9"/>
<line x1="186.1" y1="1479" x2="186.1" y2="1492.1" stroke="#000" stroke-width="1.4"/>
<line x1="181.6" y1="1479" x2="190.6" y2="1479" stroke="#000" stroke-width="1.7"/>
<line x1="181.6" y1="1492.1" x2="190.6" y2="1492.1" stroke="#000" stroke-width="1.7"/>
<rect x="207.2" y="1530.9" width="17.8" height="44.7" fill="#a10000" stroke="#000" stroke-width="2"/>
<rect x="212.2" y="1513.7" width="7.8" height="7.8"/>
<rect x="212.2" y="1531.1" width="7.8" height="7.8"/>
<rect x="205.4" y="1531.1" width="7.8" height="7.8"/>
<rect x="218.9" y="1531.1" width="7.8" height="7.8"/>
<rect x="212.2" y="1548.6" width="7.8" height="7.8"/>
<line x1="216.1" y1="1525.3" x2="216.1" y2="1536.4" stroke="#000" stroke-width="1.4"/>
<line x1="211.6" y1="1525.3" x2="220.6" y2="1525.3" stroke="#000" stroke-width="1.7"/>
<line x1="211.6" y1="1536.4" x2="220.6" y2="1536.4" stroke="#000" stroke-width="1.7"/>
<rect x="237.2" y="1541.9" width="17.8" height="33.7" fill="#a2a1a6" stroke="#000" stroke-width="2"/>
<path d="M246.1 1513.3L250 1520.7L242.2 1520.7Z"/>
<path d="M246.1 1530.7L250 1538.2L242.2 1538.2Z"/>
<path d="M246.1 1548.2L250 1555.6L242.2 1555.6Z"/>
<path d="M239.3 1548.2L243.2 1555.6L235.4 1555.6Z"/>
<path d="M252.8 1548.2L256.8 1555.6L248.9 1555.6Z"/>
<line x1="246.1" y1="1534.9" x2="246.1" y2="1548.9" stroke="#000" stroke-width="1.4"/>
<line x1="241.6" y1="1534.9" x2="250.6" y2="1534.9" stroke="#000" stroke-width="1.7"/>
<line x1="241.6" y1="1548.9" x2="250.6" y2="1548.9" stroke="#000" stroke-width="1.7"/>
<rect x="287.5" y="1509.9" width="17.8" height="65.7" fill="#064d61" stroke="#000" stroke-width="2"/>
<circle cx="296.4" cy="1482.6" r="3.9"/>
<circle cx="290.4" cy="1500.1" r="3.9"/>
<circle cx="302.4" cy="1500.1" r="3.9"/>
<circle cx="296.4" cy="1517.6" r="3.9"/>
<circle cx="296.4" cy="1552.5" r="3.9"/>
<line x1="296.4" y1="1498" x2="296.4" y2="1521.7" stroke="#000" stroke-width="1.4"/>
<line x1="291.9" y1="1498" x2="300.9" y2="1498" stroke="#000" stroke-width="1.7"/>
<line x1="291.9" y1="1521.7" x2="300.9" y2="1521.7" stroke="#000" stroke-width="1.7"/>
<rect x="317.5" y="1566.9" width="17.8" height="8.7" fill="#a10000" stroke="#000" stroke-width="2"/>
<rect x="322.5" y="1566.1" width="7.8" height="7.8"/>
<rect x="319.1" y="1566.1" width="7.8" height="7.8"/>
<rect x="325.9" y="1566.1" width="7.8" height="7.8"/>
<rect x="315.8" y="1566.1" width="7.8" height="7.8"/>
<rect x="329.2" y="1566.1" width="7.8" height="7.8"/>
<rect x="347.5" y="1531.6" width="17.8" height="44" fill="#a2a1a6" stroke="#000" stroke-width="2"/>
<path d="M350.4 1513.3L354.3 1520.7L346.5 1520.7Z"/>
<path d="M362.4 1513.3L366.3 1520.7L358.5 1520.7Z"/>
<path d="M350.4 1530.7L354.3 1538.2L346.5 1538.2Z"/>
<path d="M362.4 1530.7L366.3 1538.2L358.5 1538.2Z"/>
<path d="M356.4 1548.2L360.3 1555.6L352.5 1555.6Z"/>
<line x1="356.4" y1="1525" x2="356.4" y2="1538.1" stroke="#000" stroke-width="1.4"/>
<line x1="351.9" y1="1525" x2="360.9" y2="1525" stroke="#000" stroke-width="1.7"/>
<line x1="351.9" y1="1538.1" x2="360.9" y2="1538.1" stroke="#000" stroke-width="1.7"/>
<rect x="397.8" y="1482.4" width="17.8" height="93.2" fill="#064d61" stroke="#000" stroke-width="2"/>
<circle cx="406.7" cy="1465.1" r="3.9"/>
<circle cx="399.9" cy="1465.1" r="3.9"/>
<circle cx="413.4" cy="1465.1" r="3.9"/>
<circle cx="406.7" cy="1500.1" r="3.9"/>
<circle cx="406.7" cy="1517.6" r="3.9"/>
<line x1="406.7" y1="1471.4" x2="406.7" y2="1493.5" stroke="#000" stroke-width="1.4"/>
<line x1="402.2" y1="1471.4" x2="411.2" y2="1471.4" stroke="#000" stroke-width="1.7"/>
<line x1="402.2" y1="1493.5" x2="411.2" y2="1493.5" stroke="#000" stroke-width="1.7"/>
<rect x="427.8" y="1530.9" width="17.8" height="44.7" fill="#a10000" stroke="#000" stroke-width="2"/>
<rect x="432.8" y="1513.7" width="7.8" height="7.8"/>
<rect x="432.8" y="1531.1" width="7.8" height="7.8"/>
<rect x="426.1" y="1531.1" width="7.8" height="7.8"/>
<rect x="439.6" y="1531.1" width="7.8" height="7.8"/>
<rect x="432.8" y="1548.6" width="7.8" height="7.8"/>
<line x1="436.7" y1="1525.3" x2="436.7" y2="1536.4" stroke="#000" stroke-width="1.4"/>
<line x1="432.2" y1="1525.3" x2="441.2" y2="1525.3" stroke="#000" stroke-width="1.7"/>
<line x1="432.2" y1="1536.4" x2="441.2" y2="1536.4" stroke="#000" stroke-width="1.7"/>
<rect x="457.8" y="1517.4" width="17.8" height="58.2" fill="#a2a1a6" stroke="#000" stroke-width="2"/>
<path d="M466.7 1495.8L470.6 1503.2L462.8 1503.2Z"/>
<path d="M466.7 1513.3L470.6 1520.7L462.8 1520.7Z"/>
<path d="M459.9 1513.3L463.8 1520.7L456.1 1520.7Z"/>
<path d="M473.4 1513.3L477.3 1520.7L469.6 1520.7Z"/>
<path d="M466.7 1530.7L470.6 1538.2L462.8 1538.2Z"/>
<line x1="466.7" y1="1511.9" x2="466.7" y2="1522.9" stroke="#000" stroke-width="1.4"/>
<line x1="462.2" y1="1511.9" x2="471.2" y2="1511.9" stroke="#000" stroke-width="1.7"/>
<line x1="462.2" y1="1522.9" x2="471.2" y2="1522.9" stroke="#000" stroke-width="1.7"/>
<rect x="508.1" y="1441.2" width="17.8" height="134.4" fill="#064d61" stroke="#000" stroke-width="2"/>
<circle cx="517" cy="1430.2" r="3.9"/>
<circle cx="510.2" cy="1430.2" r="3.9"/>
<circle cx="523.8" cy="1430.2" r="3.9"/>
<circle cx="517" cy="1447.6" r="3.9"/>
<circle cx="517" cy="1465.1" r="3.9"/>
<line x1="517" y1="1434.2" x2="517" y2="1448.2" stroke="#000" stroke-width="1.4"/>
<line x1="512.5" y1="1434.2" x2="521.5" y2="1434.2" stroke="#000" stroke-width="1.7"/>
<line x1="512.5" y1="1448.2" x2="521.5" y2="1448.2" stroke="#000" stroke-width="1.7"/>
<rect x="538.1" y="1462" width="17.8" height="113.6" fill="#a10000" stroke="#000" stroke-width="2"/>
<rect x="543.1" y="1443.7" width="7.8" height="7.8"/>
<rect x="540.9" y="1461.2" width="7.8" height="7.8"/>
<rect x="545.4" y="1461.2" width="7.8" height="7.8"/>
<rect x="536.4" y="1461.2" width="7.8" height="7.8"/>
<rect x="549.9" y="1461.2" width="7.8" height="7.8"/>
<line x1="547" y1="1458.5" x2="547" y2="1465.5" stroke="#000" stroke-width="1.4"/>
<line x1="542.5" y1="1458.5" x2="551.5" y2="1458.5" stroke="#000" stroke-width="1.7"/>
<line x1="542.5" y1="1465.5" x2="551.5" y2="1465.5" stroke="#000" stroke-width="1.7"/>
<rect x="568.1" y="1483.5" width="17.8" height="92.1" fill="#a2a1a6" stroke="#000" stroke-width="2"/>
<path d="M577 1460.8L580.9 1468.2L573.1 1468.2Z"/>
<path d="M577 1478.3L580.9 1485.7L573.1 1485.7Z"/>
<path d="M570.2 1478.3L574.1 1485.7L566.4 1485.7Z"/>
<path d="M583.8 1478.3L587.6 1485.7L579.9 1485.7Z"/>
<path d="M577 1495.8L580.9 1503.2L573.1 1503.2Z"/>
<line x1="577" y1="1478" x2="577" y2="1489" stroke="#000" stroke-width="1.4"/>
<line x1="572.5" y1="1478" x2="581.5" y2="1478" stroke="#000" stroke-width="1.7"/>
<line x1="572.5" y1="1489" x2="581.5" y2="1489" stroke="#000" stroke-width="1.7"/>
<rect x="618.4" y="1445.4" width="17.8" height="130.2" fill="#064d61" stroke="#000" stroke-width="2"/>
<circle cx="627.3" cy="1430.2" r="3.9"/>
<circle cx="627.3" cy="1447.6" r="3.9"/>
<circle cx="620.5" cy="1447.6" r="3.9"/>
<circle cx="634" cy="1447.6" r="3.9"/>
<circle cx="627.3" cy="1465.1" r="3.9"/>
<line x1="627.3" y1="1439.8" x2="627.3" y2="1450.9" stroke="#000" stroke-width="1.4"/>
<line x1="622.8" y1="1439.8" x2="631.8" y2="1439.8" stroke="#000" stroke-width="1.7"/>
<line x1="622.8" y1="1450.9" x2="631.8" y2="1450.9" stroke="#000" stroke-width="1.7"/>
<rect x="648.4" y="1462" width="17.8" height="113.6" fill="#a10000" stroke="#000" stroke-width="2"/>
<rect x="653.4" y="1443.7" width="7.8" height="7.8"/>
<rect x="653.4" y="1461.2" width="7.8" height="7.8"/>
<rect x="646.6" y="1461.2" width="7.8" height="7.8"/>
<rect x="660.1" y="1461.2" width="7.8" height="7.8"/>
<rect x="653.4" y="1478.7" width="7.8" height="7.8"/>
<line x1="657.3" y1="1456.5" x2="657.3" y2="1467.5" stroke="#000" stroke-width="1.4"/>
<line x1="652.8" y1="1456.5" x2="661.8" y2="1456.5" stroke="#000" stroke-width="1.7"/>
<line x1="652.8" y1="1467.5" x2="661.8" y2="1467.5" stroke="#000" stroke-width="1.7"/>
<rect x="678.4" y="1545.9" width="17.8" height="29.7" fill="#a2a1a6" stroke="#000" stroke-width="2"/>
<path d="M687.3 1513.3L691.2 1520.7L683.4 1520.7Z"/>
<path d="M681.3 1530.7L685.2 1538.2L677.4 1538.2Z"/>
<path d="M693.3 1530.7L697.2 1538.2L689.4 1538.2Z"/>
<path d="M681.3 1565.7L685.2 1573.1L677.4 1573.1Z"/>
<path d="M693.3 1565.7L697.2 1573.1L689.4 1573.1Z"/>
<line x1="687.3" y1="1535.4" x2="687.3" y2="1556.4" stroke="#000" stroke-width="1.4"/>
<line x1="682.8" y1="1535.4" x2="691.8" y2="1535.4" stroke="#000" stroke-width="1.7"/>
<line x1="682.8" y1="1556.4" x2="691.8" y2="1556.4" stroke="#000" stroke-width="1.7"/>
<rect x="728.7" y="1441.2" width="17.8" height="134.4" fill="#064d61" stroke="#000" stroke-width="2"/>
<circle cx="737.6" cy="1430.2" r="3.9"/>
<circle cx="730.9" cy="1430.2" r="3.9"/>
<circle cx="744.4" cy="1430.2" r="3.9"/>
<circle cx="737.6" cy="1447.6" r="3.9"/>
<circle cx="737.6" cy="1465.1" r="3.9"/>
<line x1="737.6" y1="1434.2" x2="737.6" y2="1448.2" stroke="#000" stroke-width="1.4"/>
<line x1="733.1" y1="1434.2" x2="742.1" y2="1434.2" stroke="#000" stroke-width="1.7"/>
<line x1="733.1" y1="1448.2" x2="742.1" y2="1448.2" stroke="#000" stroke-width="1.7"/>
<rect x="758.7" y="1472.5" width="17.8" height="103.1" fill="#a10000" stroke="#000" stroke-width="2"/>
<rect x="763.7" y="1461.2" width="7.8" height="7.8"/>
<rect x="757" y="1461.2" width="7.8" height="7.8"/>
<rect x="770.5" y="1461.2" width="7.8" height="7.8"/>
<rect x="757.7" y="1478.7" width="7.8" height="7.8"/>
<rect x="769.7" y="1478.7" width="7.8" height="7.8"/>
<line x1="767.6" y1="1468.2" x2="767.6" y2="1476.7" stroke="#000" stroke-width="1.4"/>
<line x1="763.1" y1="1468.2" x2="772.1" y2="1468.2" stroke="#000" stroke-width="1.7"/>
<line x1="763.1" y1="1476.7" x2="772.1" y2="1476.7" stroke="#000" stroke-width="1.7"/>
<rect x="788.7" y="1475.6" width="17.8" height="100" fill="#a2a1a6" stroke="#000" stroke-width="2"/>
<path d="M791.6 1460.8L795.5 1468.2L787.7 1468.2Z"/>
<path d="M803.6 1460.8L807.5 1468.2L799.7 1468.2Z"/>
<path d="M797.6 1478.3L801.5 1485.7L793.7 1485.7Z"/>
<path d="M790.9 1478.3L794.8 1485.7L787 1485.7Z"/>
<path d="M804.4 1478.3L808.2 1485.7L800.5 1485.7Z"/>
<line x1="797.6" y1="1471.3" x2="797.6" y2="1479.9" stroke="#000" stroke-width="1.4"/>
<line x1="793.1" y1="1471.3" x2="802.1" y2="1471.3" stroke="#000" stroke-width="1.7"/>
<line x1="793.1" y1="1479.9" x2="802.1" y2="1479.9" stroke="#000" stroke-width="1.7"/>
<rect x="839" y="1468.6" width="17.8" height="107" fill="#064d61" stroke="#000" stroke-width="2"/>
<circle cx="847.9" cy="1447.6" r="3.9"/>
<circle cx="841.9" cy="1465.1" r="3.9"/>
<circle cx="853.9" cy="1465.1" r="3.9"/>
<circle cx="841.9" cy="1482.6" r="3.9"/>
<circle cx="853.9" cy="1482.6" r="3.9"/>
<line x1="847.9" y1="1462.1" x2="847.9" y2="1475.2" stroke="#000" stroke-width="1.4"/>
<line x1="843.4" y1="1462.1" x2="852.4" y2="1462.1" stroke="#000" stroke-width="1.7"/>
<line x1="843.4" y1="1475.2" x2="852.4" y2="1475.2" stroke="#000" stroke-width="1.7"/>
<rect x="869" y="1461.1" width="17.8" height="114.5" fill="#a10000" stroke="#000" stroke-width="2"/>
<rect x="874" y="1443.7" width="7.8" height="7.8"/>
<rect x="874" y="1461.2" width="7.8" height="7.8"/>
<rect x="867.2" y="1461.2" width="7.8" height="7.8"/>
<rect x="880.8" y="1461.2" width="7.8" height="7.8"/>
<rect x="874" y="1478.7" width="7.8" height="7.8"/>
<line x1="877.9" y1="1455.6" x2="877.9" y2="1466.6" stroke="#000" stroke-width="1.4"/>
<line x1="873.4" y1="1455.6" x2="882.4" y2="1455.6" stroke="#000" stroke-width="1.7"/>
<line x1="873.4" y1="1466.6" x2="882.4" y2="1466.6" stroke="#000" stroke-width="1.7"/>
<rect x="899" y="1517.6" width="17.8" height="58" fill="#a2a1a6" stroke="#000" stroke-width="2"/>
<path d="M907.9 1513.3L911.8 1520.7L904 1520.7Z"/>
<path d="M904.5 1513.3L908.4 1520.7L900.6 1520.7Z"/>
<path d="M911.3 1513.3L915.2 1520.7L907.4 1520.7Z"/>
<path d="M901.1 1513.3L905 1520.7L897.2 1520.7Z"/>
<path d="M914.6 1513.3L918.5 1520.7L910.8 1520.7Z"/>
<rect x="949.3" y="1466.2" width="17.8" height="109.4" fill="#064d61" stroke="#000" stroke-width="2"/>
<circle cx="958.2" cy="1447.6" r="3.9"/>
<circle cx="952.2" cy="1465.1" r="3.9"/>
<circle cx="964.2" cy="1465.1" r="3.9"/>
<circle cx="952.2" cy="1482.6" r="3.9"/>
<circle cx="964.2" cy="1482.6" r="3.9"/>
<line x1="958.2" y1="1459.6" x2="958.2" y2="1472.7" stroke="#000" stroke-width="1.4"/>
<line x1="953.7" y1="1459.6" x2="962.7" y2="1459.6" stroke="#000" stroke-width="1.7"/>
<line x1="953.7" y1="1472.7" x2="962.7" y2="1472.7" stroke="#000" stroke-width="1.7"/>
<rect x="979.3" y="1484.5" width="17.8" height="91.1" fill="#a10000" stroke="#000" stroke-width="2"/>
<rect x="978.3" y="1461.2" width="7.8" height="7.8"/>
<rect x="990.3" y="1461.2" width="7.8" height="7.8"/>
<rect x="978.3" y="1478.7" width="7.8" height="7.8"/>
<rect x="990.3" y="1478.7" width="7.8" height="7.8"/>
<rect x="984.3" y="1513.7" width="7.8" height="7.8"/>
<line x1="988.2" y1="1475" x2="988.2" y2="1494.1" stroke="#000" stroke-width="1.4"/>
<line x1="983.7" y1="1475" x2="992.7" y2="1475" stroke="#000" stroke-width="1.7"/>
<line x1="983.7" y1="1494.1" x2="992.7" y2="1494.1" stroke="#000" stroke-width="1.7"/>
<rect x="1009.3" y="1560.2" width="17.8" height="15.4" fill="#a2a1a6" stroke="#000" stroke-width="2"/>
<path d="M1018.2 1530.7L1022.1 1538.2L1014.3 1538.2Z"/>
<path d="M1018.2 1548.2L1022.1 1555.6L1014.3 1555.6Z"/>
<path d="M1018.2 1565.7L1022.1 1573.1L1014.3 1573.1Z"/>
<path d="M1011.5 1565.7L1015.4 1573.1L1007.6 1573.1Z"/>
<path d="M1025 1565.7L1028.9 1573.1L1021.1 1573.1Z"/>
<line x1="1018.2" y1="1553.2" x2="1018.2" y2="1567.2" stroke="#000" stroke-width="1.4"/>
<line x1="1013.7" y1="1553.2" x2="1022.7" y2="1553.2" stroke="#000" stroke-width="1.7"/>
<line x1="1013.7" y1="1567.2" x2="1022.7" y2="1567.2" stroke="#000" stroke-width="1.7"/>
<rect x="1059.6" y="1472.3" width="17.8" height="103.3" fill="#064d61" stroke="#000" stroke-width="2"/>
<circle cx="1066.2" cy="1465.1" r="3.9"/>
<circle cx="1070.8" cy="1465.1" r="3.9"/>
<circle cx="1061.8" cy="1465.1" r="3.9"/>
<circle cx="1075.2" cy="1465.1" r="3.9"/>
<circle cx="1068.5" cy="1500.1" r="3.9"/>
<line x1="1068.5" y1="1465.3" x2="1068.5" y2="1479.3" stroke="#000" stroke-width="1.4"/>
<line x1="1064" y1="1465.3" x2="1073" y2="1465.3" stroke="#000" stroke-width="1.7"/>
<line x1="1064" y1="1479.3" x2="1073" y2="1479.3" stroke="#000" stroke-width="1.7"/>
<rect x="1089.6" y="1501" width="17.8" height="74.6" fill="#a10000" stroke="#000" stroke-width="2"/>
<rect x="1088.6" y="1478.7" width="7.8" height="7.8"/>
<rect x="1100.6" y="1478.7" width="7.8" height="7.8"/>
<rect x="1094.6" y="1496.2" width="7.8" height="7.8"/>
<rect x="1088.6" y="1513.7" width="7.8" height="7.8"/>
<rect x="1100.6" y="1513.7" width="7.8" height="7.8"/>
<line x1="1098.5" y1="1493.1" x2="1098.5" y2="1508.8" stroke="#000" stroke-width="1.4"/>
<line x1="1094" y1="1493.1" x2="1103" y2="1493.1" stroke="#000" stroke-width="1.7"/>
<line x1="1094" y1="1508.8" x2="1103" y2="1508.8" stroke="#000" stroke-width="1.7"/>
<rect x="1119.6" y="1501" width="17.8" height="74.6" fill="#a2a1a6" stroke="#000" stroke-width="2"/>
<path d="M1128.5 1478.3L1132.4 1485.7L1124.6 1485.7Z"/>
<path d="M1128.5 1495.8L1132.4 1503.2L1124.6 1503.2Z"/>
<path d="M1121.8 1495.8L1125.7 1503.2L1117.8 1503.2Z"/>
<path d="M1135.2 1495.8L1139.2 1503.2L1131.3 1503.2Z"/>
<path d="M1128.5 1513.3L1132.4 1520.7L1124.6 1520.7Z"/>
<line x1="1128.5" y1="1495.4" x2="1128.5" y2="1506.5" stroke="#000" stroke-width="1.4"/>
<line x1="1124" y1="1495.4" x2="1133" y2="1495.4" stroke="#000" stroke-width="1.7"/>
<line x1="1124" y1="1506.5" x2="1133" y2="1506.5" stroke="#000" stroke-width="1.7"/>
<line x1="166.6" y1="1376.5" x2="166.6" y2="1576.9" stroke="#000" stroke-width="2.7"/>
<line x1="165.2" y1="1575.6" x2="1149.5" y2="1575.6" stroke="#000" stroke-width="2.7"/>
<line x1="158.6" y1="1575.6" x2="166.6" y2="1575.6" stroke="#000" stroke-width="2.7"/>
<text x="154.8" y="1580.5" font-size="13.6" font-weight="bold" text-anchor="end">2</text>
<line x1="158.6" y1="1558.1" x2="166.6" y2="1558.1" stroke="#000" stroke-width="2.7"/>
<text x="154.8" y="1563" font-size="13.6" font-weight="bold" text-anchor="end">3</text>
<line x1="158.6" y1="1540.6" x2="166.6" y2="1540.6" stroke="#000" stroke-width="2.7"/>
<text x="154.8" y="1545.5" font-size="13.6" font-weight="bold" text-anchor="end">4</text>
<line x1="158.6" y1="1523.2" x2="166.6" y2="1523.2" stroke="#000" stroke-width="2.7"/>
<text x="154.8" y="1528.1" font-size="13.6" font-weight="bold" text-anchor="end">5</text>
<line x1="158.6" y1="1505.7" x2="166.6" y2="1505.7" stroke="#000" stroke-width="2.7"/>
<text x="154.8" y="1510.6" font-size="13.6" font-weight="bold" text-anchor="end">6</text>
<line x1="158.6" y1="1488.2" x2="166.6" y2="1488.2" stroke="#000" stroke-width="2.7"/>
<text x="154.8" y="1493.1" font-size="13.6" font-weight="bold" text-anchor="end">7</text>
<line x1="158.6" y1="1470.7" x2="166.6" y2="1470.7" stroke="#000" stroke-width="2.7"/>
<text x="154.8" y="1475.6" font-size="13.6" font-weight="bold" text-anchor="end">8</text>
<line x1="158.6" y1="1453.2" x2="166.6" y2="1453.2" stroke="#000" stroke-width="2.7"/>
<text x="154.8" y="1458.1" font-size="13.6" font-weight="bold" text-anchor="end">9</text>
<line x1="158.6" y1="1435.8" x2="166.6" y2="1435.8" stroke="#000" stroke-width="2.7"/>
<text x="154.8" y="1440.7" font-size="13.6" font-weight="bold" text-anchor="end">10</text>
<line x1="158.6" y1="1418.3" x2="166.6" y2="1418.3" stroke="#000" stroke-width="2.7"/>
<text x="154.8" y="1423.2" font-size="13.6" font-weight="bold" text-anchor="end">11</text>
<line x1="158.6" y1="1400.8" x2="166.6" y2="1400.8" stroke="#000" stroke-width="2.7"/>
<text x="154.8" y="1405.7" font-size="13.6" font-weight="bold" text-anchor="end">12</text>
<line x1="158.6" y1="1383.3" x2="166.6" y2="1383.3" stroke="#000" stroke-width="2.7"/>
<text x="154.8" y="1388.2" font-size="13.6" font-weight="bold" text-anchor="end">13</text>
<line x1="216.1" y1="1575.6" x2="216.1" y2="1584.6" stroke="#000" stroke-width="2.7"/>
<line x1="326.4" y1="1575.6" x2="326.4" y2="1584.6" stroke="#000" stroke-width="2.7"/>
<line x1="436.7" y1="1575.6" x2="436.7" y2="1584.6" stroke="#000" stroke-width="2.7"/>
<line x1="547" y1="1575.6" x2="547" y2="1584.6" stroke="#000" stroke-width="2.7"/>
<line x1="657.3" y1="1575.6" x2="657.3" y2="1584.6" stroke="#000" stroke-width="2.7"/>
<line x1="767.6" y1="1575.6" x2="767.6" y2="1584.6" stroke="#000" stroke-width="2.7"/>
<line x1="877.9" y1="1575.6" x2="877.9" y2="1584.6" stroke="#000" stroke-width="2.7"/>
<line x1="988.2" y1="1575.6" x2="988.2" y2="1584.6" stroke="#000" stroke-width="2.7"/>
<line x1="1098.5" y1="1575.6" x2="1098.5" y2="1584.6" stroke="#000" stroke-width="2.7"/>
<text x="221.2" y="1598.5" font-size="14.6" font-weight="bold" text-anchor="end" transform="rotate(-45 221.2 1598.5)">IA/1973</text>
<text x="331.5" y="1598.5" font-size="14.6" font-weight="bold" text-anchor="end" transform="rotate(-45 331.5 1598.5)">SD/2012</text>
<text x="441.8" y="1598.5" font-size="14.6" font-weight="bold" text-anchor="end" transform="rotate(-45 441.8 1598.5)">MO/2013</text>
<text x="552.1" y="1598.5" font-size="14.6" font-weight="bold" text-anchor="end" transform="rotate(-45 552.1 1598.5)">MN/2012</text>
<text x="662.4" y="1598.5" font-size="14.6" font-weight="bold" text-anchor="end" transform="rotate(-45 662.4 1598.5)">MN/2015</text>
<text x="772.7" y="1598.5" font-size="14.6" font-weight="bold" text-anchor="end" transform="rotate(-45 772.7 1598.5)">WY/2013</text>
<text x="883" y="1598.5" font-size="14.6" font-weight="bold" text-anchor="end" transform="rotate(-45 883 1598.5)">AR/2015</text>
<text x="993.3" y="1598.5" font-size="14.6" font-weight="bold" text-anchor="end" transform="rotate(-45 993.3 1598.5)">KS/2014</text>
<text x="1103.6" y="1598.5" font-size="14.6" font-weight="bold" text-anchor="end" transform="rotate(-45 1103.6 1598.5)">OH/2009</text>
<line x1="216" y1="1496" x2="249.5" y2="1496" stroke="#1a1a1a" stroke-width="1.6"/>
<text x="232.8" y="1488.5" font-size="8.5" text-anchor="middle" fill="#1a1a1a">ns</text>
<line x1="300.5" y1="1470.1" x2="330.8" y2="1470.1" stroke="#1a1a1a" stroke-width="1.6"/>
<text x="315.6" y="1462.6" font-size="8.5" text-anchor="middle" fill="#1a1a1a">0.0005</text>
<line x1="413.7" y1="1430" x2="467.8" y2="1430" stroke="#1a1a1a" stroke-width="1.6"/>
<text x="440.8" y="1422.5" font-size="8.5" text-anchor="middle" fill="#1a1a1a">0.0207</text>
<line x1="413.7" y1="1455" x2="443.4" y2="1455" stroke="#1a1a1a" stroke-width="1.6"/>
<text x="428.5" y="1447.5" font-size="8.5" text-anchor="middle" fill="#1a1a1a">0.0013</text>
<line x1="522.3" y1="1402" x2="577.1" y2="1402" stroke="#1a1a1a" stroke-width="1.6"/>
<text x="549.7" y="1394.5" font-size="8.5" text-anchor="middle" fill="#1a1a1a">0.0005</text>
<line x1="522.3" y1="1423.2" x2="552.4" y2="1423.2" stroke="#1a1a1a" stroke-width="1.6"/>
<text x="537.3" y="1415.7" font-size="8.5" text-anchor="middle" fill="#1a1a1a">0.0487</text>
<line x1="552.4" y1="1441.9" x2="582.9" y2="1441.9" stroke="#1a1a1a" stroke-width="1.6"/>
<text x="567.6" y="1434.4" font-size="8.5" text-anchor="middle" fill="#1a1a1a">0.0487</text>
<line x1="633.7" y1="1418.6" x2="688.7" y2="1418.6" stroke="#1a1a1a" stroke-width="1.6"/>
<text x="661.2" y="1411.1" font-size="8.5" text-anchor="middle" fill="#1a1a1a">&lt;0.0001</text>
<line x1="662.6" y1="1441" x2="692.7" y2="1441" stroke="#1a1a1a" stroke-width="1.6"/>
<text x="677.7" y="1433.5" font-size="8.5" text-anchor="middle" fill="#1a1a1a">&lt;0.0001</text>
<line x1="745.1" y1="1402.4" x2="800.2" y2="1402.4" stroke="#1a1a1a" stroke-width="1.6"/>
<text x="772.7" y="1394.9" font-size="8.5" text-anchor="middle" fill="#1a1a1a">0.0016</text>
<line x1="741.9" y1="1422.5" x2="772" y2="1422.5" stroke="#1a1a1a" stroke-width="1.6"/>
<text x="757" y="1415" font-size="8.5" text-anchor="middle" fill="#1a1a1a">0.0035</text>
<line x1="856.3" y1="1419.5" x2="911.4" y2="1419.5" stroke="#1a1a1a" stroke-width="1.6"/>
<text x="883.8" y="1412" font-size="8.5" text-anchor="middle" fill="#1a1a1a">&lt;0.0001</text>
<line x1="883.2" y1="1442" x2="913.8" y2="1442" stroke="#1a1a1a" stroke-width="1.6"/>
<text x="898.5" y="1434.5" font-size="8.5" text-anchor="middle" fill="#1a1a1a">&lt;0.0001</text>
<line x1="965.7" y1="1420.3" x2="1020.3" y2="1420.3" stroke="#1a1a1a" stroke-width="1.6"/>
<text x="993" y="1412.8" font-size="8.5" text-anchor="middle" fill="#1a1a1a">&lt;0.0001</text>
<line x1="992.9" y1="1442.8" x2="1022.7" y2="1442.8" stroke="#1a1a1a" stroke-width="1.6"/>
<text x="1007.8" y="1435.3" font-size="8.5" text-anchor="middle" fill="#1a1a1a">0.0001</text>
<line x1="1075.8" y1="1455" x2="1105.9" y2="1455" stroke="#1a1a1a" stroke-width="1.6"/>
<text x="1090.8" y="1447.5" font-size="8.5" text-anchor="middle" fill="#1a1a1a">0.0380</text>
<line x1="178" y1="1376.3" x2="258" y2="1376.3" stroke="#000" stroke-width="3"/>
<text x="218" y="1370.5" font-size="16.3" font-weight="bold" text-anchor="middle">α (1A.1)</text>
<line x1="287" y1="1376.3" x2="481" y2="1376.3" stroke="#000" stroke-width="3"/>
<text x="384" y="1370.5" font-size="16.3" font-weight="bold" text-anchor="middle">β (1A.2)</text>
<line x1="497.3" y1="1376.3" x2="809.4" y2="1376.3" stroke="#000" stroke-width="3"/>
<text x="653.4" y="1370.5" font-size="16.3" font-weight="bold" text-anchor="middle">γ (1A.3.3.3)</text>
<line x1="830.6" y1="1376.3" x2="932.2" y2="1376.3" stroke="#000" stroke-width="3"/>
<text x="881.4" y="1370.5" font-size="16.3" font-weight="bold" text-anchor="middle">δ1 (1B.2.2)</text>
<line x1="941.5" y1="1376.3" x2="1134.8" y2="1376.3" stroke="#000" stroke-width="3"/>
<text x="1038.2" y="1370.5" font-size="16.3" font-weight="bold" text-anchor="middle">npdm (1A.3.3.2)</text>
<text x="128.9" y="1475.6" font-size="14.8" font-weight="bold" text-anchor="middle" transform="rotate(-90 128.9 1475.6)">HI Titer (log<tspan font-size="10.5" dy="3">2</tspan><tspan dy="-3">)</tspan></text>
<path d="M188.5 1448.2 L188.5 1435.7 L233.9 1435.7 L233.9 1474.8" fill="none" stroke="#1a1a1a" stroke-width="1.3"/>
<text x="211.2" y="1428" font-size="8.5" text-anchor="middle" fill="#1a1a1a">0.0001</text>
<line x1="172.6" y1="1866.8" x2="444.6" y2="1866.8" stroke="#000" stroke-width="2.3" stroke-linecap="round" stroke-dasharray="0 6.1"/>
<rect x="176.5" y="1795.8" width="15.2" height="125" fill="#064d61" stroke="#000" stroke-width="2"/>
<circle cx="179.1" cy="1785.5" r="3.6"/>
<circle cx="189.1" cy="1785.5" r="3.6"/>
<circle cx="184.1" cy="1801.8" r="3.6"/>
<circle cx="178.3" cy="1801.8" r="3.6"/>
<circle cx="189.8" cy="1801.8" r="3.6"/>
<line x1="184.1" y1="1791.8" x2="184.1" y2="1799.7" stroke="#000" stroke-width="1.4"/>
<line x1="179.6" y1="1791.8" x2="188.6" y2="1791.8" stroke="#000" stroke-width="1.7"/>
<line x1="179.6" y1="1799.7" x2="188.6" y2="1799.7" stroke="#000" stroke-width="1.7"/>
<rect x="202" y="1815.3" width="15.2" height="105.5" fill="#a10000" stroke="#000" stroke-width="2"/>
<rect x="206" y="1798.2" width="7.2" height="7.2"/>
<rect x="206" y="1814.4" width="7.2" height="7.2"/>
<rect x="200.2" y="1814.4" width="7.2" height="7.2"/>
<rect x="211.8" y="1814.4" width="7.2" height="7.2"/>
<rect x="206" y="1830.7" width="7.2" height="7.2"/>
<line x1="209.6" y1="1810.1" x2="209.6" y2="1820.4" stroke="#000" stroke-width="1.4"/>
<line x1="205.1" y1="1810.1" x2="214.1" y2="1810.1" stroke="#000" stroke-width="1.7"/>
<line x1="205.1" y1="1820.4" x2="214.1" y2="1820.4" stroke="#000" stroke-width="1.7"/>
<rect x="227.5" y="1890.2" width="15.2" height="30.6" fill="#a2a1a6" stroke="#000" stroke-width="2"/>
<path d="M230.1 1862.8L233.7 1869.7L226.5 1869.7Z"/>
<path d="M240.1 1862.8L243.7 1869.7L236.5 1869.7Z"/>
<path d="M230.1 1895.4L233.7 1902.2L226.5 1902.2Z"/>
<path d="M240.1 1895.4L243.7 1902.2L236.5 1902.2Z"/>
<path d="M235.1 1911.6L238.7 1918.5L231.5 1918.5Z"/>
<line x1="235.1" y1="1880.5" x2="235.1" y2="1900" stroke="#000" stroke-width="1.4"/>
<line x1="230.6" y1="1880.5" x2="239.6" y2="1880.5" stroke="#000" stroke-width="1.7"/>
<line x1="230.6" y1="1900" x2="239.6" y2="1900" stroke="#000" stroke-width="1.7"/>
<rect x="272" y="1783.1" width="15.2" height="137.7" fill="#064d61" stroke="#000" stroke-width="2"/>
<circle cx="279.6" cy="1769.3" r="3.6"/>
<circle cx="279.6" cy="1785.5" r="3.6"/>
<circle cx="273.9" cy="1785.5" r="3.6"/>
<circle cx="285.4" cy="1785.5" r="3.6"/>
<circle cx="279.6" cy="1801.8" r="3.6"/>
<line x1="279.6" y1="1777.9" x2="279.6" y2="1788.2" stroke="#000" stroke-width="1.4"/>
<line x1="275.1" y1="1777.9" x2="284.1" y2="1777.9" stroke="#000" stroke-width="1.7"/>
<line x1="275.1" y1="1788.2" x2="284.1" y2="1788.2" stroke="#000" stroke-width="1.7"/>
<rect x="297.5" y="1805.5" width="15.2" height="115.3" fill="#a10000" stroke="#000" stroke-width="2"/>
<rect x="296.5" y="1781.9" width="7.2" height="7.2"/>
<rect x="306.5" y="1781.9" width="7.2" height="7.2"/>
<rect x="301.5" y="1798.2" width="7.2" height="7.2"/>
<rect x="301.5" y="1814.4" width="7.2" height="7.2"/>
<rect x="301.5" y="1830.7" width="7.2" height="7.2"/>
<line x1="305.1" y1="1796" x2="305.1" y2="1815" stroke="#000" stroke-width="1.4"/>
<line x1="300.6" y1="1796" x2="309.6" y2="1796" stroke="#000" stroke-width="1.7"/>
<line x1="300.6" y1="1815" x2="309.6" y2="1815" stroke="#000" stroke-width="1.7"/>
<rect x="323" y="1893.6" width="15.2" height="27.2" fill="#a2a1a6" stroke="#000" stroke-width="2"/>
<path d="M325.6 1862.8L329.2 1869.7L322 1869.7Z"/>
<path d="M335.6 1862.8L339.2 1869.7L332 1869.7Z"/>
<path d="M330.6 1895.4L334.2 1902.2L327 1902.2Z"/>
<path d="M325.6 1911.6L329.2 1918.5L322 1918.5Z"/>
<path d="M335.6 1911.6L339.2 1918.5L332 1918.5Z"/>
<line x1="330.6" y1="1882.6" x2="330.6" y2="1904.7" stroke="#000" stroke-width="1.4"/>
<line x1="326.1" y1="1882.6" x2="335.1" y2="1882.6" stroke="#000" stroke-width="1.7"/>
<line x1="326.1" y1="1904.7" x2="335.1" y2="1904.7" stroke="#000" stroke-width="1.7"/>
<rect x="366.7" y="1825" width="15.2" height="95.8" fill="#064d61" stroke="#000" stroke-width="2"/>
<circle cx="374.3" cy="1801.8" r="3.6"/>
<circle cx="374.3" cy="1818" r="3.6"/>
<circle cx="374.3" cy="1834.3" r="3.6"/>
<circle cx="368.6" cy="1834.3" r="3.6"/>
<circle cx="380.1" cy="1834.3" r="3.6"/>
<line x1="374.3" y1="1818.5" x2="374.3" y2="1831.5" stroke="#000" stroke-width="1.4"/>
<line x1="369.8" y1="1818.5" x2="378.8" y2="1818.5" stroke="#000" stroke-width="1.7"/>
<line x1="369.8" y1="1831.5" x2="378.8" y2="1831.5" stroke="#000" stroke-width="1.7"/>
<rect x="392.2" y="1880.5" width="15.2" height="40.3" fill="#a10000" stroke="#000" stroke-width="2"/>
<rect x="396.2" y="1847" width="7.2" height="7.2"/>
<rect x="396.2" y="1863.2" width="7.2" height="7.2"/>
<rect x="396.2" y="1879.5" width="7.2" height="7.2"/>
<rect x="391.2" y="1895.7" width="7.2" height="7.2"/>
<rect x="401.2" y="1895.7" width="7.2" height="7.2"/>
<line x1="399.8" y1="1871" x2="399.8" y2="1890" stroke="#000" stroke-width="1.4"/>
<line x1="395.3" y1="1871" x2="404.3" y2="1871" stroke="#000" stroke-width="1.7"/>
<line x1="395.3" y1="1890" x2="404.3" y2="1890" stroke="#000" stroke-width="1.7"/>
<rect x="417.7" y="1854.5" width="15.2" height="66.3" fill="#a2a1a6" stroke="#000" stroke-width="2"/>
<path d="M425.3 1830.3L428.9 1837.2L421.7 1837.2Z"/>
<path d="M420.3 1846.6L423.9 1853.4L416.7 1853.4Z"/>
<path d="M430.3 1846.6L433.9 1853.4L426.7 1853.4Z"/>
<path d="M420.3 1862.8L423.9 1869.7L416.7 1869.7Z"/>
<path d="M430.3 1862.8L433.9 1869.7L426.7 1869.7Z"/>
<line x1="425.3" y1="1848.4" x2="425.3" y2="1860.5" stroke="#000" stroke-width="1.4"/>
<line x1="420.8" y1="1848.4" x2="429.8" y2="1848.4" stroke="#000" stroke-width="1.7"/>
<line x1="420.8" y1="1860.5" x2="429.8" y2="1860.5" stroke="#000" stroke-width="1.7"/>
<line x1="166.6" y1="1736.5" x2="166.6" y2="1922.1" stroke="#000" stroke-width="2.7"/>
<line x1="165.2" y1="1920.8" x2="444.6" y2="1920.8" stroke="#000" stroke-width="2.7"/>
<line x1="158.6" y1="1920.8" x2="166.6" y2="1920.8" stroke="#000" stroke-width="2.7"/>
<text x="154.8" y="1925.7" font-size="13.6" font-weight="bold" text-anchor="end">2</text>
<line x1="158.6" y1="1904.5" x2="166.6" y2="1904.5" stroke="#000" stroke-width="2.7"/>
<text x="154.8" y="1909.4" font-size="13.6" font-weight="bold" text-anchor="end">3</text>
<line x1="158.6" y1="1888.3" x2="166.6" y2="1888.3" stroke="#000" stroke-width="2.7"/>
<text x="154.8" y="1893.2" font-size="13.6" font-weight="bold" text-anchor="end">4</text>
<line x1="158.6" y1="1872" x2="166.6" y2="1872" stroke="#000" stroke-width="2.7"/>
<text x="154.8" y="1876.9" font-size="13.6" font-weight="bold" text-anchor="end">5</text>
<line x1="158.6" y1="1855.8" x2="166.6" y2="1855.8" stroke="#000" stroke-width="2.7"/>
<text x="154.8" y="1860.7" font-size="13.6" font-weight="bold" text-anchor="end">6</text>
<line x1="158.6" y1="1839.5" x2="166.6" y2="1839.5" stroke="#000" stroke-width="2.7"/>
<text x="154.8" y="1844.4" font-size="13.6" font-weight="bold" text-anchor="end">7</text>
<line x1="158.6" y1="1823.2" x2="166.6" y2="1823.2" stroke="#000" stroke-width="2.7"/>
<text x="154.8" y="1828.1" font-size="13.6" font-weight="bold" text-anchor="end">8</text>
<line x1="158.6" y1="1807" x2="166.6" y2="1807" stroke="#000" stroke-width="2.7"/>
<text x="154.8" y="1811.9" font-size="13.6" font-weight="bold" text-anchor="end">9</text>
<line x1="158.6" y1="1790.7" x2="166.6" y2="1790.7" stroke="#000" stroke-width="2.7"/>
<text x="154.8" y="1795.6" font-size="13.6" font-weight="bold" text-anchor="end">10</text>
<line x1="158.6" y1="1774.5" x2="166.6" y2="1774.5" stroke="#000" stroke-width="2.7"/>
<text x="154.8" y="1779.4" font-size="13.6" font-weight="bold" text-anchor="end">11</text>
<line x1="158.6" y1="1758.2" x2="166.6" y2="1758.2" stroke="#000" stroke-width="2.7"/>
<text x="154.8" y="1763.1" font-size="13.6" font-weight="bold" text-anchor="end">12</text>
<line x1="158.6" y1="1741.9" x2="166.6" y2="1741.9" stroke="#000" stroke-width="2.7"/>
<text x="154.8" y="1746.8" font-size="13.6" font-weight="bold" text-anchor="end">13</text>
<line x1="209.6" y1="1920.8" x2="209.6" y2="1929.8" stroke="#000" stroke-width="2.7"/>
<line x1="305.1" y1="1920.8" x2="305.1" y2="1929.8" stroke="#000" stroke-width="2.7"/>
<line x1="399.8" y1="1920.8" x2="399.8" y2="1929.8" stroke="#000" stroke-width="2.7"/>
<text x="213.8" y="1941.6" font-size="13.4" font-weight="bold" text-anchor="end" transform="rotate(-45 213.8 1941.6)">CA/2009</text>
<text x="309.3" y="1941.6" font-size="13.4" font-weight="bold" text-anchor="end" transform="rotate(-45 309.3 1941.6)">MI/2015</text>
<text x="404" y="1941.6" font-size="13.4" font-weight="bold" text-anchor="end" transform="rotate(-45 404 1941.6)">turkey/KS/1980</text>
<line x1="183.2" y1="1768.3" x2="238.3" y2="1768.3" stroke="#1a1a1a" stroke-width="1.6"/>
<text x="210.8" y="1760.8" font-size="8.5" text-anchor="middle" fill="#1a1a1a">&lt;0.0001</text>
<line x1="212.1" y1="1790.3" x2="242.4" y2="1790.3" stroke="#1a1a1a" stroke-width="1.6"/>
<text x="227.2" y="1782.8" font-size="8.5" text-anchor="middle" fill="#1a1a1a">&lt;0.0001</text>
<line x1="280.6" y1="1756.6" x2="335.4" y2="1756.6" stroke="#1a1a1a" stroke-width="1.6"/>
<text x="308" y="1749.1" font-size="8.5" text-anchor="middle" fill="#1a1a1a">&lt;0.0001</text>
<line x1="309.2" y1="1776.9" x2="339.4" y2="1776.9" stroke="#1a1a1a" stroke-width="1.6"/>
<text x="324.3" y="1769.4" font-size="8.5" text-anchor="middle" fill="#1a1a1a">&lt;0.0001</text>
<line x1="373.4" y1="1767.8" x2="428" y2="1767.8" stroke="#1a1a1a" stroke-width="1.6"/>
<text x="400.7" y="1760.3" font-size="8.5" text-anchor="middle" fill="#1a1a1a">0.0428</text>
<line x1="374.1" y1="1792.3" x2="404" y2="1792.3" stroke="#1a1a1a" stroke-width="1.6"/>
<text x="389.1" y="1784.8" font-size="8.5" text-anchor="middle" fill="#1a1a1a">0.0006</text>
<line x1="172.7" y1="1726.2" x2="338.6" y2="1726.2" stroke="#000" stroke-width="3"/>
<text x="260.9" y="1719.4" font-size="15.1" font-weight="bold" text-anchor="middle">huH1</text>
<line x1="356.5" y1="1726.2" x2="439.7" y2="1726.2" stroke="#000" stroke-width="3"/>
<text x="398" y="1719.4" font-size="15.1" font-weight="bold" text-anchor="middle">avH1</text>
<text x="131.4" y="1828.9" font-size="14.3" font-weight="bold" text-anchor="middle" transform="rotate(-90 131.4 1828.9)">HI Titer (log<tspan font-size="10" dy="3">2</tspan><tspan dy="-3">)</tspan></text>
<rect x="635.7" y="1706.5" width="60.9" height="23" fill="#69929d"/>
<rect x="696.3" y="1706.5" width="60.9" height="23" fill="#b9ccd1"/>
<rect x="756.9" y="1706.5" width="60.9" height="23" fill="#d7e2e5"/>
<line x1="627.5" y1="1717.9" x2="635.7" y2="1717.9" stroke="#000" stroke-width="2"/>
<text x="626" y="1722.6" font-size="13.2" font-weight="bold" text-anchor="end">IA/1973</text>
<rect x="635.7" y="1729.2" width="60.9" height="23" fill="#86a7b0"/>
<rect x="696.3" y="1729.2" width="60.9" height="23" fill="#fefefe"/>
<rect x="756.9" y="1729.2" width="60.9" height="23" fill="#bbcdd2"/>
<line x1="627.5" y1="1740.6" x2="635.7" y2="1740.6" stroke="#000" stroke-width="2"/>
<text x="626" y="1745.3" font-size="13.2" font-weight="bold" text-anchor="end">SD/2012</text>
<rect x="635.7" y="1751.9" width="60.9" height="23" fill="#5b8893"/>
<rect x="696.3" y="1751.9" width="60.9" height="23" fill="#b9ccd1"/>
<rect x="756.9" y="1751.9" width="60.9" height="23" fill="#a1bbc2"/>
<line x1="627.5" y1="1763.3" x2="635.7" y2="1763.3" stroke="#000" stroke-width="2"/>
<text x="626" y="1768" font-size="13.2" font-weight="bold" text-anchor="end">MO/2013</text>
<rect x="635.7" y="1774.6" width="60.9" height="23" fill="#0d4f60"/>
<rect x="696.3" y="1774.6" width="60.9" height="23" fill="#457885"/>
<rect x="756.9" y="1774.6" width="60.9" height="23" fill="#658f9a"/>
<line x1="627.5" y1="1786" x2="635.7" y2="1786" stroke="#000" stroke-width="2"/>
<text x="626" y="1790.7" font-size="13.2" font-weight="bold" text-anchor="end">MN/2012</text>
<rect x="635.7" y="1797.3" width="60.9" height="23" fill="#2c6675"/>
<rect x="696.3" y="1797.3" width="60.9" height="23" fill="#457885"/>
<rect x="756.9" y="1797.3" width="60.9" height="23" fill="#bed0d5"/>
<line x1="627.5" y1="1808.7" x2="635.7" y2="1808.7" stroke="#000" stroke-width="2"/>
<text x="626" y="1813.4" font-size="13.2" font-weight="bold" text-anchor="end">MN/2015</text>
<rect x="635.7" y="1820" width="60.9" height="23" fill="#0d4f60"/>
<rect x="696.3" y="1820" width="60.9" height="23" fill="#457885"/>
<rect x="756.9" y="1820" width="60.9" height="23" fill="#5e8a95"/>
<line x1="627.5" y1="1831.4" x2="635.7" y2="1831.4" stroke="#000" stroke-width="2"/>
<text x="626" y="1836.1" font-size="13.2" font-weight="bold" text-anchor="end">WY/2013</text>
<rect x="635.7" y="1842.8" width="60.9" height="23" fill="#4a7c89"/>
<rect x="696.3" y="1842.8" width="60.9" height="23" fill="#457885"/>
<rect x="756.9" y="1842.8" width="60.9" height="23" fill="#a2bbc2"/>
<line x1="627.5" y1="1854.1" x2="635.7" y2="1854.1" stroke="#000" stroke-width="2"/>
<text x="626" y="1858.9" font-size="13.2" font-weight="bold" text-anchor="end">AR/2015</text>
<rect x="635.7" y="1865.5" width="60.9" height="23" fill="#4b7c89"/>
<rect x="696.3" y="1865.5" width="60.9" height="23" fill="#67909b"/>
<rect x="756.9" y="1865.5" width="60.9" height="23" fill="#fdfdfd"/>
<line x1="627.5" y1="1876.8" x2="635.7" y2="1876.8" stroke="#000" stroke-width="2"/>
<text x="626" y="1881.6" font-size="13.2" font-weight="bold" text-anchor="end">KS/2014</text>
<rect x="635.7" y="1888.2" width="60.9" height="23" fill="#4e7e8b"/>
<rect x="696.3" y="1888.2" width="60.9" height="23" fill="#84a6af"/>
<rect x="756.9" y="1888.2" width="60.9" height="23" fill="#84a6af"/>
<line x1="627.5" y1="1899.5" x2="635.7" y2="1899.5" stroke="#000" stroke-width="2"/>
<text x="626" y="1904.3" font-size="13.2" font-weight="bold" text-anchor="end">OH/2009</text>
<rect x="635.7" y="1910.9" width="60.9" height="23" fill="#266171"/>
<rect x="696.3" y="1910.9" width="60.9" height="23" fill="#3f7381"/>
<rect x="756.9" y="1910.9" width="60.9" height="23" fill="#d7e2e5"/>
<line x1="627.5" y1="1922.2" x2="635.7" y2="1922.2" stroke="#000" stroke-width="2"/>
<text x="626" y="1927" font-size="13.2" font-weight="bold" text-anchor="end">CA/2009</text>
<rect x="635.7" y="1933.6" width="60.9" height="23" fill="#0a4d5e"/>
<rect x="696.3" y="1933.6" width="60.9" height="23" fill="#2c6675"/>
<rect x="756.9" y="1933.6" width="60.9" height="23" fill="#d7e2e5"/>
<line x1="627.5" y1="1944.9" x2="635.7" y2="1944.9" stroke="#000" stroke-width="2"/>
<text x="626" y="1949.7" font-size="13.2" font-weight="bold" text-anchor="end">MI/2015</text>
<rect x="635.7" y="1956.3" width="60.9" height="23" fill="#67919c"/>
<rect x="696.3" y="1956.3" width="60.9" height="23" fill="#bcced3"/>
<rect x="756.9" y="1956.3" width="60.9" height="23" fill="#7a9ea8"/>
<line x1="627.5" y1="1967.6" x2="635.7" y2="1967.6" stroke="#000" stroke-width="2"/>
<text x="626" y="1972.4" font-size="13.2" font-weight="bold" text-anchor="end">turkey/KS/1980</text>
<rect x="635.7" y="1706.5" width="181.8" height="272.5" fill="none" stroke="#000" stroke-width="2.2"/>
<line x1="666" y1="1700" x2="666" y2="1706.5" stroke="#000" stroke-width="2"/>
<text x="664.9" y="1694.8" font-size="13.2" font-weight="bold" text-anchor="middle">Epi</text>
<line x1="726.6" y1="1700" x2="726.6" y2="1706.5" stroke="#000" stroke-width="2"/>
<text x="726.9" y="1694.8" font-size="13.2" font-weight="bold" text-anchor="middle">WT</text>
<line x1="787.2" y1="1700" x2="787.2" y2="1706.5" stroke="#000" stroke-width="2"/>
<text x="787.1" y="1694.8" font-size="13.2" font-weight="bold" text-anchor="middle">FluSure XP</text>
<linearGradient id="cb2" x1="0" y1="0" x2="0" y2="1"><stop offset="0" stop-color="#064a5c"/><stop offset="1" stop-color="#ffffff"/></linearGradient>
<rect x="839.7" y="1706.5" width="23.4" height="272.5" fill="url(#cb2)" stroke="#000" stroke-width="2.2"/>
<line x1="839.7" y1="1718.8" x2="844.7" y2="1718.8" stroke="#000" stroke-width="2"/>
<line x1="858.1" y1="1718.8" x2="863.1" y2="1718.8" stroke="#000" stroke-width="2"/>
<text x="870.5" y="1723.8" font-size="14.5">10</text>
<line x1="839.7" y1="1786.6" x2="844.7" y2="1786.6" stroke="#000" stroke-width="2"/>
<line x1="858.1" y1="1786.6" x2="863.1" y2="1786.6" stroke="#000" stroke-width="2"/>
<text x="870.5" y="1791.6" font-size="14.5">8</text>
<line x1="839.7" y1="1854.4" x2="844.7" y2="1854.4" stroke="#000" stroke-width="2"/>
<line x1="858.1" y1="1854.4" x2="863.1" y2="1854.4" stroke="#000" stroke-width="2"/>
<text x="870.5" y="1859.4" font-size="14.5">6</text>
<line x1="839.7" y1="1922.2" x2="844.7" y2="1922.2" stroke="#000" stroke-width="2"/>
<line x1="858.1" y1="1922.2" x2="863.1" y2="1922.2" stroke="#000" stroke-width="2"/>
<text x="870.5" y="1927.2" font-size="14.5">4</text>
<text x="911.8" y="1838" font-size="23" text-anchor="middle" transform="rotate(90 911.8 1838)">HI titer<tspan dx="12">(log</tspan><tspan font-size="16" dy="5">2</tspan><tspan dy="-5">)</tspan></text>
<text x="45.5" y="2066.5" font-size="63" font-weight="bold" transform="translate(45.5 0) scale(0.77 1) translate(-45.5 0)">E</text>
<rect x="188.7" y="2362.7" width="21.4" height="7.3" fill="#064d61" stroke="#000" stroke-width="2.2"/>
<circle cx="199.4" cy="2353.6" r="3.2"/>
<circle cx="196.3" cy="2362.7" r="3.2"/>
<circle cx="202.5" cy="2364.5" r="3.2"/>
<circle cx="190.1" cy="2366.4" r="3.2"/>
<circle cx="208.8" cy="2366.4" r="3.2"/>
<line x1="199.4" y1="2360.3" x2="199.4" y2="2365.1" stroke="#000" stroke-width="1.4"/>
<line x1="194.4" y1="2360.3" x2="204.4" y2="2360.3" stroke="#000" stroke-width="1.7"/>
<line x1="194.4" y1="2365.1" x2="204.4" y2="2365.1" stroke="#000" stroke-width="1.7"/>
<rect x="223.7" y="2369.1" width="21.4" height="0.9" fill="#a10000" stroke="#000" stroke-width="2.2"/>
<rect x="231.2" y="2365" width="6.4" height="6.4"/>
<rect x="226.5" y="2365.9" width="6.4" height="6.4"/>
<rect x="235.9" y="2365.9" width="6.4" height="6.4"/>
<rect x="221.9" y="2366.3" width="6.4" height="6.4"/>
<rect x="240.6" y="2366.8" width="6.4" height="6.4"/>
<line x1="234.4" y1="2368.8" x2="234.4" y2="2369.4" stroke="#000" stroke-width="1.4"/>
<line x1="229.4" y1="2368.8" x2="239.4" y2="2368.8" stroke="#000" stroke-width="1.7"/>
<line x1="229.4" y1="2369.4" x2="239.4" y2="2369.4" stroke="#000" stroke-width="1.7"/>
<rect x="258.7" y="2357.6" width="21.4" height="12.4" fill="#a2a1a6" stroke="#000" stroke-width="2.2"/>
<path d="M269.4 2351.9L272.6 2358L266.2 2358Z"/>
<path d="M264.7 2352.8L267.9 2358.9L261.5 2358.9Z"/>
<path d="M274.1 2354.6L277.3 2360.7L270.9 2360.7Z"/>
<path d="M260 2355.6L263.2 2361.6L256.8 2361.6Z"/>
<path d="M278.8 2355.6L281.9 2361.6L275.6 2361.6Z"/>
<line x1="269.4" y1="2356.9" x2="269.4" y2="2358.4" stroke="#000" stroke-width="1.4"/>
<line x1="264.4" y1="2356.9" x2="274.4" y2="2356.9" stroke="#000" stroke-width="1.7"/>
<line x1="264.4" y1="2358.4" x2="274.4" y2="2358.4" stroke="#000" stroke-width="1.7"/>
<rect x="319.9" y="2326.9" width="21.4" height="43.1" fill="#064d61" stroke="#000" stroke-width="2.2"/>
<circle cx="330.6" cy="2286.3" r="3.2"/>
<circle cx="330.6" cy="2319" r="3.2"/>
<circle cx="330.6" cy="2333.6" r="3.2"/>
<circle cx="322.1" cy="2348.2" r="3.2"/>
<circle cx="339.1" cy="2348.2" r="3.2"/>
<line x1="330.6" y1="2315.3" x2="330.6" y2="2338.4" stroke="#000" stroke-width="1.4"/>
<line x1="325.6" y1="2315.3" x2="335.6" y2="2315.3" stroke="#000" stroke-width="1.7"/>
<line x1="325.6" y1="2338.4" x2="335.6" y2="2338.4" stroke="#000" stroke-width="1.7"/>
<rect x="354.9" y="2360.9" width="21.4" height="9.1" fill="#a10000" stroke="#000" stroke-width="2.2"/>
<rect x="362.4" y="2356.8" width="6.4" height="6.4"/>
<rect x="357.7" y="2357.7" width="6.4" height="6.4"/>
<rect x="367.1" y="2357.7" width="6.4" height="6.4"/>
<rect x="353.1" y="2358.6" width="6.4" height="6.4"/>
<rect x="371.8" y="2358.6" width="6.4" height="6.4"/>
<line x1="365.6" y1="2360.6" x2="365.6" y2="2361.2" stroke="#000" stroke-width="1.4"/>
<line x1="360.6" y1="2360.6" x2="370.6" y2="2360.6" stroke="#000" stroke-width="1.7"/>
<line x1="360.6" y1="2361.2" x2="370.6" y2="2361.2" stroke="#000" stroke-width="1.7"/>
<rect x="389.9" y="2334.5" width="21.4" height="35.5" fill="#a2a1a6" stroke="#000" stroke-width="2.2"/>
<path d="M400.6 2311.9L403.8 2318L397.4 2318Z"/>
<path d="M392.1 2326.4L395.3 2332.5L388.9 2332.5Z"/>
<path d="M409.1 2330.1L412.3 2336.2L405.9 2336.2Z"/>
<path d="M392.1 2339.2L395.3 2345.3L388.9 2345.3Z"/>
<path d="M409.1 2344.6L412.3 2350.7L405.9 2350.7Z"/>
<line x1="400.6" y1="2328.9" x2="400.6" y2="2340.2" stroke="#000" stroke-width="1.4"/>
<line x1="395.6" y1="2328.9" x2="405.6" y2="2328.9" stroke="#000" stroke-width="1.7"/>
<line x1="395.6" y1="2340.2" x2="405.6" y2="2340.2" stroke="#000" stroke-width="1.7"/>
<rect x="451.1" y="2297.2" width="21.4" height="72.8" fill="#064d61" stroke="#000" stroke-width="2.2"/>
<circle cx="461.8" cy="2218.9" r="3.2"/>
<circle cx="461.8" cy="2297.2" r="3.2"/>
<circle cx="461.8" cy="2306.3" r="3.2"/>
<circle cx="461.8" cy="2315.4" r="3.2"/>
<circle cx="461.8" cy="2337.2" r="3.2"/>
<line x1="461.8" y1="2277.1" x2="461.8" y2="2317.3" stroke="#000" stroke-width="1.4"/>
<line x1="456.8" y1="2277.1" x2="466.8" y2="2277.1" stroke="#000" stroke-width="1.7"/>
<line x1="456.8" y1="2317.3" x2="466.8" y2="2317.3" stroke="#000" stroke-width="1.7"/>
<rect x="486.1" y="2362.7" width="21.4" height="7.3" fill="#a10000" stroke="#000" stroke-width="2.2"/>
<rect x="493.6" y="2357.7" width="6.4" height="6.4"/>
<rect x="488.9" y="2358.6" width="6.4" height="6.4"/>
<rect x="498.3" y="2359.5" width="6.4" height="6.4"/>
<rect x="484.2" y="2361.3" width="6.4" height="6.4"/>
<rect x="502.9" y="2361.3" width="6.4" height="6.4"/>
<line x1="496.8" y1="2362" x2="496.8" y2="2363.4" stroke="#000" stroke-width="1.4"/>
<line x1="491.8" y1="2362" x2="501.8" y2="2362" stroke="#000" stroke-width="1.7"/>
<line x1="491.8" y1="2363.4" x2="501.8" y2="2363.4" stroke="#000" stroke-width="1.7"/>
<rect x="521.1" y="2348.2" width="21.4" height="21.8" fill="#a2a1a6" stroke="#000" stroke-width="2.2"/>
<path d="M531.8 2339.2L535 2345.3L528.6 2345.3Z"/>
<path d="M527.1 2341L530.3 2347.1L523.9 2347.1Z"/>
<path d="M536.5 2344.6L539.7 2350.7L533.3 2350.7Z"/>
<path d="M522.4 2348.3L525.6 2354.4L519.2 2354.4Z"/>
<path d="M541.1 2348.3L544.4 2354.4L537.9 2354.4Z"/>
<line x1="531.8" y1="2346.3" x2="531.8" y2="2350" stroke="#000" stroke-width="1.4"/>
<line x1="526.8" y1="2346.3" x2="536.8" y2="2346.3" stroke="#000" stroke-width="1.7"/>
<line x1="526.8" y1="2350" x2="536.8" y2="2350" stroke="#000" stroke-width="1.7"/>
<rect x="582.3" y="2240.2" width="21.4" height="129.8" fill="#064d61" stroke="#000" stroke-width="2.2"/>
<circle cx="593" cy="2148" r="3.2"/>
<circle cx="593" cy="2228" r="3.2"/>
<circle cx="593" cy="2239" r="3.2"/>
<circle cx="593" cy="2279" r="3.2"/>
<circle cx="593" cy="2304.5" r="3.2"/>
<line x1="593" y1="2213.5" x2="593" y2="2267" stroke="#000" stroke-width="1.4"/>
<line x1="588" y1="2213.5" x2="598" y2="2213.5" stroke="#000" stroke-width="1.7"/>
<line x1="588" y1="2267" x2="598" y2="2267" stroke="#000" stroke-width="1.7"/>
<rect x="617.3" y="2350.9" width="21.4" height="19.1" fill="#a10000" stroke="#000" stroke-width="2.2"/>
<rect x="624.8" y="2335.9" width="6.4" height="6.4"/>
<rect x="621.7" y="2343.1" width="6.4" height="6.4"/>
<rect x="627.9" y="2348.6" width="6.4" height="6.4"/>
<rect x="615.4" y="2354.1" width="6.4" height="6.4"/>
<rect x="634.1" y="2357.7" width="6.4" height="6.4"/>
<line x1="628" y1="2347" x2="628" y2="2354.8" stroke="#000" stroke-width="1.4"/>
<line x1="623" y1="2347" x2="633" y2="2347" stroke="#000" stroke-width="1.7"/>
<line x1="623" y1="2354.8" x2="633" y2="2354.8" stroke="#000" stroke-width="1.7"/>
<rect x="652.3" y="2338.7" width="21.4" height="31.3" fill="#a2a1a6" stroke="#000" stroke-width="2.2"/>
<path d="M663 2301L666.2 2307L659.8 2307Z"/>
<path d="M663 2330.1L666.2 2336.2L659.8 2336.2Z"/>
<path d="M663 2339.2L666.2 2345.3L659.8 2345.3Z"/>
<path d="M654.5 2348.3L657.7 2354.4L651.3 2354.4Z"/>
<path d="M671.5 2353.7L674.7 2359.8L668.3 2359.8Z"/>
<line x1="663" y1="2329.4" x2="663" y2="2348" stroke="#000" stroke-width="1.4"/>
<line x1="658" y1="2329.4" x2="668" y2="2329.4" stroke="#000" stroke-width="1.7"/>
<line x1="658" y1="2348" x2="668" y2="2348" stroke="#000" stroke-width="1.7"/>
<rect x="713.5" y="2274.6" width="21.4" height="95.4" fill="#064d61" stroke="#000" stroke-width="2.2"/>
<circle cx="715.7" cy="2254.6" r="3.2"/>
<circle cx="732.7" cy="2259" r="3.2"/>
<circle cx="724.2" cy="2268.6" r="3.2"/>
<circle cx="724.2" cy="2289.9" r="3.2"/>
<circle cx="724.2" cy="2296.5" r="3.2"/>
<line x1="724.2" y1="2266.3" x2="724.2" y2="2283" stroke="#000" stroke-width="1.4"/>
<line x1="719.2" y1="2266.3" x2="729.2" y2="2266.3" stroke="#000" stroke-width="1.7"/>
<line x1="719.2" y1="2283" x2="729.2" y2="2283" stroke="#000" stroke-width="1.7"/>
<rect x="748.5" y="2355.6" width="21.4" height="14.4" fill="#a10000" stroke="#000" stroke-width="2.2"/>
<rect x="756" y="2339.5" width="6.4" height="6.4"/>
<rect x="752.9" y="2352.2" width="6.4" height="6.4"/>
<rect x="759.1" y="2355.9" width="6.4" height="6.4"/>
<rect x="746.6" y="2357.7" width="6.4" height="6.4"/>
<rect x="765.3" y="2357.7" width="6.4" height="6.4"/>
<line x1="759.2" y1="2352.2" x2="759.2" y2="2359" stroke="#000" stroke-width="1.4"/>
<line x1="754.2" y1="2352.2" x2="764.2" y2="2352.2" stroke="#000" stroke-width="1.7"/>
<line x1="754.2" y1="2359" x2="764.2" y2="2359" stroke="#000" stroke-width="1.7"/>
<rect x="783.5" y="2340.3" width="21.4" height="29.7" fill="#a2a1a6" stroke="#000" stroke-width="2.2"/>
<path d="M794.2 2313.7L797.4 2319.8L791 2319.8Z"/>
<path d="M791.1 2335.5L794.3 2341.6L787.9 2341.6Z"/>
<path d="M797.3 2339.2L800.5 2345.3L794.1 2345.3Z"/>
<path d="M784.8 2344.6L788 2350.7L781.6 2350.7Z"/>
<path d="M803.5 2348.3L806.8 2354.4L800.3 2354.4Z"/>
<line x1="794.2" y1="2334.3" x2="794.2" y2="2346.4" stroke="#000" stroke-width="1.4"/>
<line x1="789.2" y1="2334.3" x2="799.2" y2="2334.3" stroke="#000" stroke-width="1.7"/>
<line x1="789.2" y1="2346.4" x2="799.2" y2="2346.4" stroke="#000" stroke-width="1.7"/>
<rect x="844.7" y="2249.9" width="21.4" height="120.1" fill="#064d61" stroke="#000" stroke-width="2.2"/>
<circle cx="855.4" cy="2202.6" r="3.2"/>
<circle cx="855.4" cy="2209.8" r="3.2"/>
<circle cx="855.4" cy="2249.9" r="3.2"/>
<circle cx="855.4" cy="2279" r="3.2"/>
<circle cx="855.4" cy="2306.3" r="3.2"/>
<line x1="855.4" y1="2230" x2="855.4" y2="2269.7" stroke="#000" stroke-width="1.4"/>
<line x1="850.4" y1="2230" x2="860.4" y2="2230" stroke="#000" stroke-width="1.7"/>
<line x1="850.4" y1="2269.7" x2="860.4" y2="2269.7" stroke="#000" stroke-width="1.7"/>
<rect x="879.7" y="2340.3" width="21.4" height="29.7" fill="#a10000" stroke="#000" stroke-width="2.2"/>
<rect x="887.2" y="2321.3" width="6.4" height="6.4"/>
<rect x="878.7" y="2330.4" width="6.4" height="6.4"/>
<rect x="895.7" y="2334" width="6.4" height="6.4"/>
<rect x="887.2" y="2345" width="6.4" height="6.4"/>
<rect x="887.2" y="2354.1" width="6.4" height="6.4"/>
<line x1="890.4" y1="2334.6" x2="890.4" y2="2346" stroke="#000" stroke-width="1.4"/>
<line x1="885.4" y1="2334.6" x2="895.4" y2="2334.6" stroke="#000" stroke-width="1.7"/>
<line x1="885.4" y1="2346" x2="895.4" y2="2346" stroke="#000" stroke-width="1.7"/>
<rect x="914.7" y="2352.9" width="21.4" height="17.1" fill="#a2a1a6" stroke="#000" stroke-width="2.2"/>
<path d="M925.4 2341L928.6 2347.1L922.2 2347.1Z"/>
<path d="M920.7 2344.6L923.9 2350.7L917.5 2350.7Z"/>
<path d="M930.1 2348.3L933.3 2354.4L926.9 2354.4Z"/>
<path d="M916 2353.7L919.2 2359.8L912.8 2359.8Z"/>
<path d="M934.8 2357.4L938 2363.5L931.5 2363.5Z"/>
<line x1="925.4" y1="2349.9" x2="925.4" y2="2355.9" stroke="#000" stroke-width="1.4"/>
<line x1="920.4" y1="2349.9" x2="930.4" y2="2349.9" stroke="#000" stroke-width="1.7"/>
<line x1="920.4" y1="2355.9" x2="930.4" y2="2355.9" stroke="#000" stroke-width="1.7"/>
<rect x="975.9" y="2274.6" width="21.4" height="95.4" fill="#064d61" stroke="#000" stroke-width="2.2"/>
<circle cx="986.6" cy="2206.2" r="3.2"/>
<circle cx="978.1" cy="2275.4" r="3.2"/>
<circle cx="995.1" cy="2277.2" r="3.2"/>
<circle cx="978.1" cy="2304.5" r="3.2"/>
<circle cx="995.1" cy="2309.9" r="3.2"/>
<line x1="986.6" y1="2256.2" x2="986.6" y2="2293.1" stroke="#000" stroke-width="1.4"/>
<line x1="981.6" y1="2256.2" x2="991.6" y2="2256.2" stroke="#000" stroke-width="1.7"/>
<line x1="981.6" y1="2293.1" x2="991.6" y2="2293.1" stroke="#000" stroke-width="1.7"/>
<rect x="1010.9" y="2356.2" width="21.4" height="13.8" fill="#a10000" stroke="#000" stroke-width="2.2"/>
<rect x="1009.9" y="2341.3" width="6.4" height="6.4"/>
<rect x="1026.9" y="2345" width="6.4" height="6.4"/>
<rect x="1018.4" y="2357.7" width="6.4" height="6.4"/>
<rect x="1009" y="2361.3" width="6.4" height="6.4"/>
<rect x="1027.7" y="2361.3" width="6.4" height="6.4"/>
<line x1="1021.6" y1="2351.9" x2="1021.6" y2="2360.4" stroke="#000" stroke-width="1.4"/>
<line x1="1016.6" y1="2351.9" x2="1026.6" y2="2351.9" stroke="#000" stroke-width="1.7"/>
<line x1="1016.6" y1="2360.4" x2="1026.6" y2="2360.4" stroke="#000" stroke-width="1.7"/>
<rect x="1045.9" y="2323" width="21.4" height="47" fill="#a2a1a6" stroke="#000" stroke-width="2.2"/>
<path d="M1056.6 2293.7L1059.8 2299.8L1053.4 2299.8Z"/>
<path d="M1048.1 2308.2L1051.3 2314.3L1044.9 2314.3Z"/>
<path d="M1065.1 2310.1L1068.3 2316.1L1061.9 2316.1Z"/>
<path d="M1056.6 2331.9L1059.8 2338L1053.4 2338Z"/>
<path d="M1056.6 2344.6L1059.8 2350.7L1053.4 2350.7Z"/>
<line x1="1056.6" y1="2314" x2="1056.6" y2="2332.1" stroke="#000" stroke-width="1.4"/>
<line x1="1051.6" y1="2314" x2="1061.6" y2="2314" stroke="#000" stroke-width="1.7"/>
<line x1="1051.6" y1="2332.1" x2="1061.6" y2="2332.1" stroke="#000" stroke-width="1.7"/>
<rect x="1107.1" y="2232.6" width="21.4" height="137.4" fill="#064d61" stroke="#000" stroke-width="2.2"/>
<circle cx="1117.8" cy="2122.5" r="3.2"/>
<circle cx="1117.8" cy="2228" r="3.2"/>
<circle cx="1117.8" cy="2239" r="3.2"/>
<circle cx="1109.3" cy="2275.4" r="3.2"/>
<circle cx="1126.3" cy="2275.4" r="3.2"/>
<line x1="1117.8" y1="2204.5" x2="1117.8" y2="2260.6" stroke="#000" stroke-width="1.4"/>
<line x1="1112.8" y1="2204.5" x2="1122.8" y2="2204.5" stroke="#000" stroke-width="1.7"/>
<line x1="1112.8" y1="2260.6" x2="1122.8" y2="2260.6" stroke="#000" stroke-width="1.7"/>
<rect x="1142.1" y="2336.1" width="21.4" height="33.9" fill="#a10000" stroke="#000" stroke-width="2.2"/>
<rect x="1149.6" y="2312.2" width="6.4" height="6.4"/>
<rect x="1149.6" y="2319.5" width="6.4" height="6.4"/>
<rect x="1149.6" y="2330.4" width="6.4" height="6.4"/>
<rect x="1149.6" y="2339.5" width="6.4" height="6.4"/>
<rect x="1149.6" y="2352.2" width="6.4" height="6.4"/>
<line x1="1152.8" y1="2329" x2="1152.8" y2="2343.3" stroke="#000" stroke-width="1.4"/>
<line x1="1147.8" y1="2329" x2="1157.8" y2="2329" stroke="#000" stroke-width="1.7"/>
<line x1="1147.8" y1="2343.3" x2="1157.8" y2="2343.3" stroke="#000" stroke-width="1.7"/>
<rect x="1177.1" y="2316.3" width="21.4" height="53.7" fill="#a2a1a6" stroke="#000" stroke-width="2.2"/>
<path d="M1187.8 2280.9L1191 2287L1184.6 2287Z"/>
<path d="M1179.3 2301L1182.5 2307L1176.1 2307Z"/>
<path d="M1196.3 2301L1199.5 2307L1193.1 2307Z"/>
<path d="M1187.8 2330.1L1191 2336.2L1184.6 2336.2Z"/>
<path d="M1187.8 2350.1L1191 2356.2L1184.6 2356.2Z"/>
<line x1="1187.8" y1="2304.1" x2="1187.8" y2="2328.5" stroke="#000" stroke-width="1.4"/>
<line x1="1182.8" y1="2304.1" x2="1192.8" y2="2304.1" stroke="#000" stroke-width="1.7"/>
<line x1="1182.8" y1="2328.5" x2="1192.8" y2="2328.5" stroke="#000" stroke-width="1.7"/>
<line x1="175.4" y1="2095" x2="175.4" y2="2371.3" stroke="#000" stroke-width="2.6"/>
<line x1="174.1" y1="2370" x2="1215.3" y2="2370" stroke="#000" stroke-width="2.6"/>
<line x1="166.4" y1="2370" x2="175.4" y2="2370" stroke="#000" stroke-width="2.6"/>
<text x="163.6" y="2375.5" font-size="15.3" font-weight="bold" text-anchor="end">0.0</text>
<line x1="166.4" y1="2279" x2="175.4" y2="2279" stroke="#000" stroke-width="2.6"/>
<text x="163.6" y="2284.5" font-size="15.3" font-weight="bold" text-anchor="end">0.5</text>
<line x1="166.4" y1="2188" x2="175.4" y2="2188" stroke="#000" stroke-width="2.6"/>
<text x="163.6" y="2193.5" font-size="15.3" font-weight="bold" text-anchor="end">1.0</text>
<line x1="166.4" y1="2097" x2="175.4" y2="2097" stroke="#000" stroke-width="2.6"/>
<text x="163.6" y="2102.5" font-size="15.3" font-weight="bold" text-anchor="end">1.5</text>
<line x1="234.4" y1="2370" x2="234.4" y2="2380" stroke="#000" stroke-width="2.6"/>
<line x1="365.6" y1="2370" x2="365.6" y2="2380" stroke="#000" stroke-width="2.6"/>
<line x1="496.8" y1="2370" x2="496.8" y2="2380" stroke="#000" stroke-width="2.6"/>
<line x1="628" y1="2370" x2="628" y2="2380" stroke="#000" stroke-width="2.6"/>
<line x1="759.2" y1="2370" x2="759.2" y2="2380" stroke="#000" stroke-width="2.6"/>
<line x1="890.4" y1="2370" x2="890.4" y2="2380" stroke="#000" stroke-width="2.6"/>
<line x1="1021.6" y1="2370" x2="1021.6" y2="2380" stroke="#000" stroke-width="2.6"/>
<line x1="1152.8" y1="2370" x2="1152.8" y2="2380" stroke="#000" stroke-width="2.6"/>
<text x="239.6" y="2394.5" font-size="15.8" font-weight="bold" text-anchor="end" transform="rotate(-45 239.6 2394.5)">IA/1930</text>
<text x="370.8" y="2394.5" font-size="15.8" font-weight="bold" text-anchor="end" transform="rotate(-45 370.8 2394.5)">IA/1973</text>
<text x="502" y="2394.5" font-size="15.8" font-weight="bold" text-anchor="end" transform="rotate(-45 502 2394.5)">Tainan/2005</text>
<text x="633.2" y="2394.5" font-size="15.8" font-weight="bold" text-anchor="end" transform="rotate(-45 633.2 2394.5)">KS/2004</text>
<text x="764.4" y="2394.5" font-size="15.8" font-weight="bold" text-anchor="end" transform="rotate(-45 764.4 2394.5)">MN/2015</text>
<text x="895.6" y="2394.5" font-size="15.8" font-weight="bold" text-anchor="end" transform="rotate(-45 895.6 2394.5)">KS/2014</text>
<text x="1026.8" y="2394.5" font-size="15.8" font-weight="bold" text-anchor="end" transform="rotate(-45 1026.8 2394.5)">Guangxi/2006</text>
<text x="1158" y="2394.5" font-size="15.8" font-weight="bold" text-anchor="end" transform="rotate(-45 1158 2394.5)">Hong Kong/2011</text>
<line x1="200.8" y1="2332.1" x2="235.1" y2="2332.1" stroke="#1a1a1a" stroke-width="2.4"/>
<text x="217.9" y="2323.6" font-size="11.5" text-anchor="middle" fill="#1a1a1a">0.0362</text>
<line x1="235.1" y1="2297.5" x2="269.8" y2="2297.5" stroke="#1a1a1a" stroke-width="2.4"/>
<text x="252.4" y="2289" font-size="11.5" text-anchor="middle" fill="#1a1a1a">0.0010</text>
<line x1="330.9" y1="2277" x2="370.5" y2="2277" stroke="#1a1a1a" stroke-width="2.4"/>
<text x="350.7" y="2268.5" font-size="11.5" text-anchor="middle" fill="#1a1a1a">0.0125</text>
<line x1="367.7" y1="2248.7" x2="401.6" y2="2248.7" stroke="#1a1a1a" stroke-width="2.4"/>
<text x="384.6" y="2240.2" font-size="11.5" text-anchor="middle" fill="#1a1a1a">0.0483</text>
<line x1="463.5" y1="2209.5" x2="505.9" y2="2209.5" stroke="#1a1a1a" stroke-width="2.4"/>
<text x="484.7" y="2201" font-size="11.5" text-anchor="middle" fill="#1a1a1a">0.0044</text>
<line x1="463.5" y1="2184.7" x2="542" y2="2184.7" stroke="#1a1a1a" stroke-width="2.4"/>
<text x="502.8" y="2176.2" font-size="11.5" text-anchor="middle" fill="#1a1a1a">0.0218</text>
<line x1="594.3" y1="2183.4" x2="646.5" y2="2183.4" stroke="#1a1a1a" stroke-width="2.4"/>
<text x="620.4" y="2174.9" font-size="11.5" text-anchor="middle" fill="#1a1a1a">0.0017</text>
<line x1="594.3" y1="2206.2" x2="622.2" y2="2206.2" stroke="#1a1a1a" stroke-width="2.4"/>
<text x="608.2" y="2197.7" font-size="11.5" text-anchor="middle" fill="#1a1a1a">0.005</text>
<line x1="725.6" y1="2219.9" x2="796.1" y2="2219.9" stroke="#1a1a1a" stroke-width="2.4"/>
<text x="760.9" y="2211.4" font-size="11.5" text-anchor="middle" fill="#1a1a1a">&lt;0.0001</text>
<line x1="725.6" y1="2244.5" x2="757.6" y2="2244.5" stroke="#1a1a1a" stroke-width="2.4"/>
<text x="741.6" y="2236" font-size="11.5" text-anchor="middle" fill="#1a1a1a">&lt;0.0001</text>
<line x1="855.5" y1="2176.5" x2="936.1" y2="2176.5" stroke="#1a1a1a" stroke-width="2.4"/>
<text x="895.8" y="2168" font-size="11.5" text-anchor="middle" fill="#1a1a1a">&lt;0.0001</text>
<line x1="855.5" y1="2200.8" x2="893.5" y2="2200.8" stroke="#1a1a1a" stroke-width="2.4"/>
<text x="874.5" y="2192.3" font-size="11.5" text-anchor="middle" fill="#1a1a1a">0.0002</text>
<line x1="987.3" y1="2171.2" x2="1067.5" y2="2171.2" stroke="#1a1a1a" stroke-width="2.4"/>
<text x="1027.4" y="2162.7" font-size="11.5" text-anchor="middle" fill="#1a1a1a">0.0195</text>
<line x1="987.3" y1="2194.6" x2="1022.6" y2="2194.6" stroke="#1a1a1a" stroke-width="2.4"/>
<text x="1005" y="2186.1" font-size="11.5" text-anchor="middle" fill="#1a1a1a">0.0004</text>
<line x1="1119.5" y1="2169.5" x2="1189.8" y2="2169.5" stroke="#1a1a1a" stroke-width="2.4"/>
<text x="1154.7" y="2161" font-size="11.5" text-anchor="middle" fill="#1a1a1a">0.0172</text>
<line x1="1119.5" y1="2194" x2="1162.7" y2="2194" stroke="#1a1a1a" stroke-width="2.4"/>
<text x="1141.1" y="2185.5" font-size="11.5" text-anchor="middle" fill="#1a1a1a">0.0044</text>
<line x1="199.8" y1="2107.7" x2="406.6" y2="2107.7" stroke="#000" stroke-width="3"/>
<text x="303.2" y="2100.6" font-size="17.3" font-weight="bold" text-anchor="middle">α (1A.1)</text>
<line x1="438.7" y1="2107.7" x2="542" y2="2107.7" stroke="#000" stroke-width="3"/>
<text x="490.4" y="2100.6" font-size="17.3" font-weight="bold" text-anchor="middle">1A.1.1</text>
<line x1="576.6" y1="2107.7" x2="814.1" y2="2107.7" stroke="#000" stroke-width="3"/>
<text x="701.3" y="2100.6" font-size="17.3" font-weight="bold" text-anchor="middle">γ (1A.3.3.3)</text>
<line x1="830.4" y1="2107.7" x2="958.3" y2="2107.7" stroke="#000" stroke-width="3"/>
<text x="894.3" y="2080" font-size="17.3" font-weight="bold" text-anchor="middle">npdm</text>
<text x="894.3" y="2101.4" font-size="17.3" font-weight="bold" text-anchor="middle">(1A.3.3.2)</text>
<line x1="972.6" y1="2107.7" x2="1214.9" y2="2107.7" stroke="#000" stroke-width="3"/>
<text x="1093.8" y="2100.6" font-size="17.3" font-weight="bold" text-anchor="middle">1A.3.3.1</text>
<text x="131.1" y="2233" font-size="17.5" font-weight="bold" text-anchor="middle" transform="rotate(-90 131.1 2233)">OD450 nm</text>
</svg>
</body></html>
